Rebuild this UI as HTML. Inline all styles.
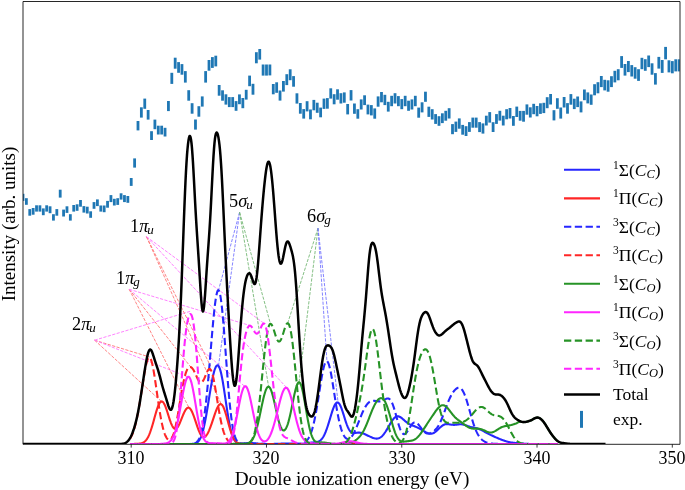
<!DOCTYPE html>
<html><head><meta charset="utf-8"><style>
html,body{margin:0;padding:0;background:#fff;}
#c{position:relative;width:685px;height:490px;overflow:hidden;background:#fff;font-family:"Liberation Serif",serif;color:#000;-webkit-font-smoothing:antialiased;}
#c div{will-change:transform;}
svg{position:absolute;left:0;top:0;}
.tl{position:absolute;top:448.2px;width:60px;text-align:center;font-size:17.9px;line-height:20px;}
.xl{position:absolute;left:0.8px;width:702px;top:468.3px;text-align:center;font-size:19.2px;line-height:22px;}
.yl{position:absolute;left:-101px;top:213.8px;width:220px;text-align:center;font-size:19px;line-height:20px;transform:rotate(-90deg);}
.lt{position:absolute;left:612.5px;font-size:17.5px;line-height:22px;white-space:nowrap;}
.lt sup{font-size:11.5px;vertical-align:0;position:relative;top:-7px;}
.lt sub{font-size:12.5px;vertical-align:0;position:relative;top:1.5px;}
.an{position:absolute;font-size:18.3px;line-height:20px;white-space:nowrap;}
.an sub{font-size:13px;vertical-align:0;position:relative;top:2px;margin-left:-1px;}
</style></head><body><div id="c">
<svg width="685" height="490" viewBox="0 0 685 490">
<defs><clipPath id="ax"><rect x="23.1" y="1.45" width="656.65" height="442.55"/></clipPath></defs>
<g clip-path="url(#ax)">
<rect x="21.60" y="193.80" width="2.8" height="7.10" fill="#1f77b4"/>
<rect x="24.98" y="198.20" width="2.8" height="6.60" fill="#1f77b4"/>
<rect x="28.36" y="209.10" width="2.8" height="6.60" fill="#1f77b4"/>
<rect x="31.75" y="208.00" width="2.8" height="6.70" fill="#1f77b4"/>
<rect x="35.13" y="205.30" width="2.8" height="6.30" fill="#1f77b4"/>
<rect x="38.51" y="205.30" width="2.8" height="6.30" fill="#1f77b4"/>
<rect x="41.89" y="208.40" width="2.8" height="6.80" fill="#1f77b4"/>
<rect x="45.27" y="205.30" width="2.8" height="6.30" fill="#1f77b4"/>
<rect x="48.66" y="206.30" width="2.8" height="6.90" fill="#1f77b4"/>
<rect x="52.04" y="214.20" width="2.8" height="6.40" fill="#1f77b4"/>
<rect x="55.42" y="209.10" width="2.8" height="6.60" fill="#1f77b4"/>
<rect x="58.80" y="189.70" width="2.8" height="7.90" fill="#1f77b4"/>
<rect x="62.18" y="209.60" width="2.8" height="6.90" fill="#1f77b4"/>
<rect x="65.57" y="206.30" width="2.8" height="6.60" fill="#1f77b4"/>
<rect x="68.95" y="214.20" width="2.8" height="6.40" fill="#1f77b4"/>
<rect x="72.33" y="205.00" width="2.8" height="6.60" fill="#1f77b4"/>
<rect x="75.71" y="204.30" width="2.8" height="6.50" fill="#1f77b4"/>
<rect x="79.09" y="200.00" width="2.8" height="6.70" fill="#1f77b4"/>
<rect x="82.48" y="206.10" width="2.8" height="6.50" fill="#1f77b4"/>
<rect x="85.86" y="206.70" width="2.8" height="6.80" fill="#1f77b4"/>
<rect x="89.24" y="211.30" width="2.8" height="6.50" fill="#1f77b4"/>
<rect x="92.62" y="202.10" width="2.8" height="6.70" fill="#1f77b4"/>
<rect x="96.00" y="199.40" width="2.8" height="6.70" fill="#1f77b4"/>
<rect x="99.39" y="205.50" width="2.8" height="6.10" fill="#1f77b4"/>
<rect x="102.77" y="205.50" width="2.8" height="6.70" fill="#1f77b4"/>
<rect x="106.15" y="200.90" width="2.8" height="6.80" fill="#1f77b4"/>
<rect x="109.53" y="195.10" width="2.8" height="7.00" fill="#1f77b4"/>
<rect x="112.91" y="198.80" width="2.8" height="6.70" fill="#1f77b4"/>
<rect x="116.30" y="198.20" width="2.8" height="6.70" fill="#1f77b4"/>
<rect x="119.68" y="193.30" width="2.8" height="6.30" fill="#1f77b4"/>
<rect x="123.06" y="195.10" width="2.8" height="7.00" fill="#1f77b4"/>
<rect x="126.44" y="196.00" width="2.8" height="6.80" fill="#1f77b4"/>
<rect x="129.82" y="178.00" width="2.8" height="7.90" fill="#1f77b4"/>
<rect x="133.21" y="158.40" width="2.8" height="9.20" fill="#1f77b4"/>
<rect x="136.59" y="121.00" width="2.8" height="9.40" fill="#1f77b4"/>
<rect x="139.97" y="107.30" width="2.8" height="10.30" fill="#1f77b4"/>
<rect x="143.35" y="98.60" width="2.8" height="10.20" fill="#1f77b4"/>
<rect x="146.73" y="110.00" width="2.8" height="9.60" fill="#1f77b4"/>
<rect x="150.12" y="131.20" width="2.8" height="8.80" fill="#1f77b4"/>
<rect x="153.50" y="119.60" width="2.8" height="9.60" fill="#1f77b4"/>
<rect x="156.88" y="125.70" width="2.8" height="8.80" fill="#1f77b4"/>
<rect x="160.26" y="125.70" width="2.8" height="8.80" fill="#1f77b4"/>
<rect x="163.64" y="127.80" width="2.8" height="8.70" fill="#1f77b4"/>
<rect x="167.03" y="101.00" width="2.8" height="10.10" fill="#1f77b4"/>
<rect x="170.41" y="72.80" width="2.8" height="11.10" fill="#1f77b4"/>
<rect x="173.79" y="57.70" width="2.8" height="11.00" fill="#1f77b4"/>
<rect x="177.17" y="62.10" width="2.8" height="10.70" fill="#1f77b4"/>
<rect x="180.55" y="64.10" width="2.8" height="10.60" fill="#1f77b4"/>
<rect x="183.94" y="71.10" width="2.8" height="11.50" fill="#1f77b4"/>
<rect x="187.32" y="90.20" width="2.8" height="10.50" fill="#1f77b4"/>
<rect x="190.70" y="103.20" width="2.8" height="10.50" fill="#1f77b4"/>
<rect x="194.08" y="119.50" width="2.8" height="10.10" fill="#1f77b4"/>
<rect x="197.46" y="106.20" width="2.8" height="10.50" fill="#1f77b4"/>
<rect x="200.85" y="96.40" width="2.8" height="10.20" fill="#1f77b4"/>
<rect x="204.23" y="71.10" width="2.8" height="11.50" fill="#1f77b4"/>
<rect x="207.61" y="60.00" width="2.8" height="10.70" fill="#1f77b4"/>
<rect x="210.99" y="57.10" width="2.8" height="10.80" fill="#1f77b4"/>
<rect x="214.37" y="55.70" width="2.8" height="10.70" fill="#1f77b4"/>
<rect x="217.76" y="85.00" width="2.8" height="10.70" fill="#1f77b4"/>
<rect x="221.14" y="90.30" width="2.8" height="10.40" fill="#1f77b4"/>
<rect x="224.52" y="94.30" width="2.8" height="10.30" fill="#1f77b4"/>
<rect x="227.90" y="97.10" width="2.8" height="10.00" fill="#1f77b4"/>
<rect x="231.28" y="97.10" width="2.8" height="10.00" fill="#1f77b4"/>
<rect x="234.67" y="101.10" width="2.8" height="9.70" fill="#1f77b4"/>
<rect x="238.05" y="94.40" width="2.8" height="9.80" fill="#1f77b4"/>
<rect x="241.43" y="98.00" width="2.8" height="10.20" fill="#1f77b4"/>
<rect x="244.81" y="89.80" width="2.8" height="9.80" fill="#1f77b4"/>
<rect x="248.19" y="75.60" width="2.8" height="10.60" fill="#1f77b4"/>
<rect x="251.58" y="83.80" width="2.8" height="10.90" fill="#1f77b4"/>
<rect x="254.96" y="52.20" width="2.8" height="11.10" fill="#1f77b4"/>
<rect x="258.34" y="49.00" width="2.8" height="10.60" fill="#1f77b4"/>
<rect x="261.72" y="64.50" width="2.8" height="11.10" fill="#1f77b4"/>
<rect x="265.10" y="64.50" width="2.8" height="11.10" fill="#1f77b4"/>
<rect x="268.49" y="64.50" width="2.8" height="10.90" fill="#1f77b4"/>
<rect x="271.87" y="84.00" width="2.8" height="10.30" fill="#1f77b4"/>
<rect x="275.25" y="82.30" width="2.8" height="10.50" fill="#1f77b4"/>
<rect x="278.63" y="90.50" width="2.8" height="10.10" fill="#1f77b4"/>
<rect x="282.01" y="81.00" width="2.8" height="10.60" fill="#1f77b4"/>
<rect x="285.40" y="74.20" width="2.8" height="10.90" fill="#1f77b4"/>
<rect x="288.78" y="69.30" width="2.8" height="10.90" fill="#1f77b4"/>
<rect x="292.16" y="76.10" width="2.8" height="10.60" fill="#1f77b4"/>
<rect x="295.54" y="93.30" width="2.8" height="10.30" fill="#1f77b4"/>
<rect x="298.92" y="103.00" width="2.8" height="10.70" fill="#1f77b4"/>
<rect x="302.31" y="109.10" width="2.8" height="9.50" fill="#1f77b4"/>
<rect x="305.69" y="101.20" width="2.8" height="10.20" fill="#1f77b4"/>
<rect x="309.07" y="109.50" width="2.8" height="9.80" fill="#1f77b4"/>
<rect x="312.45" y="99.90" width="2.8" height="10.40" fill="#1f77b4"/>
<rect x="315.83" y="102.70" width="2.8" height="10.10" fill="#1f77b4"/>
<rect x="319.22" y="107.60" width="2.8" height="9.70" fill="#1f77b4"/>
<rect x="322.60" y="98.60" width="2.8" height="10.30" fill="#1f77b4"/>
<rect x="325.98" y="98.10" width="2.8" height="10.60" fill="#1f77b4"/>
<rect x="329.36" y="88.30" width="2.8" height="10.30" fill="#1f77b4"/>
<rect x="332.74" y="94.20" width="2.8" height="10.10" fill="#1f77b4"/>
<rect x="336.13" y="89.30" width="2.8" height="10.40" fill="#1f77b4"/>
<rect x="339.51" y="93.20" width="2.8" height="10.30" fill="#1f77b4"/>
<rect x="342.89" y="92.40" width="2.8" height="10.30" fill="#1f77b4"/>
<rect x="346.27" y="104.00" width="2.8" height="10.40" fill="#1f77b4"/>
<rect x="349.65" y="90.10" width="2.8" height="10.40" fill="#1f77b4"/>
<rect x="353.04" y="103.50" width="2.8" height="10.30" fill="#1f77b4"/>
<rect x="356.42" y="109.20" width="2.8" height="9.50" fill="#1f77b4"/>
<rect x="359.80" y="99.40" width="2.8" height="10.10" fill="#1f77b4"/>
<rect x="363.18" y="95.30" width="2.8" height="9.80" fill="#1f77b4"/>
<rect x="366.56" y="104.60" width="2.8" height="9.80" fill="#1f77b4"/>
<rect x="369.95" y="105.10" width="2.8" height="10.30" fill="#1f77b4"/>
<rect x="373.33" y="108.40" width="2.8" height="10.30" fill="#1f77b4"/>
<rect x="376.71" y="96.40" width="2.8" height="10.30" fill="#1f77b4"/>
<rect x="380.09" y="92.00" width="2.8" height="10.30" fill="#1f77b4"/>
<rect x="383.47" y="94.80" width="2.8" height="10.30" fill="#1f77b4"/>
<rect x="386.86" y="101.80" width="2.8" height="9.80" fill="#1f77b4"/>
<rect x="390.24" y="95.80" width="2.8" height="10.40" fill="#1f77b4"/>
<rect x="393.62" y="93.20" width="2.8" height="10.30" fill="#1f77b4"/>
<rect x="397.00" y="96.10" width="2.8" height="10.10" fill="#1f77b4"/>
<rect x="400.38" y="99.10" width="2.8" height="10.10" fill="#1f77b4"/>
<rect x="403.77" y="95.80" width="2.8" height="10.40" fill="#1f77b4"/>
<rect x="407.15" y="100.70" width="2.8" height="10.10" fill="#1f77b4"/>
<rect x="410.53" y="99.40" width="2.8" height="10.10" fill="#1f77b4"/>
<rect x="413.91" y="95.80" width="2.8" height="10.40" fill="#1f77b4"/>
<rect x="417.29" y="107.60" width="2.8" height="10.10" fill="#1f77b4"/>
<rect x="420.68" y="102.30" width="2.8" height="10.10" fill="#1f77b4"/>
<rect x="424.06" y="91.70" width="2.8" height="10.10" fill="#1f77b4"/>
<rect x="427.44" y="106.70" width="2.8" height="10.20" fill="#1f77b4"/>
<rect x="430.82" y="109.20" width="2.8" height="10.30" fill="#1f77b4"/>
<rect x="434.20" y="114.10" width="2.8" height="9.80" fill="#1f77b4"/>
<rect x="437.59" y="116.20" width="2.8" height="9.60" fill="#1f77b4"/>
<rect x="440.97" y="113.30" width="2.8" height="9.80" fill="#1f77b4"/>
<rect x="444.35" y="110.80" width="2.8" height="9.90" fill="#1f77b4"/>
<rect x="447.73" y="108.20" width="2.8" height="10.30" fill="#1f77b4"/>
<rect x="451.11" y="124.10" width="2.8" height="10.10" fill="#1f77b4"/>
<rect x="454.50" y="121.60" width="2.8" height="10.30" fill="#1f77b4"/>
<rect x="457.88" y="118.40" width="2.8" height="10.30" fill="#1f77b4"/>
<rect x="461.26" y="124.90" width="2.8" height="9.80" fill="#1f77b4"/>
<rect x="464.64" y="126.20" width="2.8" height="9.80" fill="#1f77b4"/>
<rect x="468.02" y="122.10" width="2.8" height="9.80" fill="#1f77b4"/>
<rect x="471.41" y="117.60" width="2.8" height="10.10" fill="#1f77b4"/>
<rect x="474.79" y="117.60" width="2.8" height="10.10" fill="#1f77b4"/>
<rect x="478.17" y="122.10" width="2.8" height="10.00" fill="#1f77b4"/>
<rect x="481.55" y="123.40" width="2.8" height="10.20" fill="#1f77b4"/>
<rect x="484.93" y="115.70" width="2.8" height="9.80" fill="#1f77b4"/>
<rect x="488.32" y="112.10" width="2.8" height="10.50" fill="#1f77b4"/>
<rect x="491.70" y="122.20" width="2.8" height="9.80" fill="#1f77b4"/>
<rect x="495.08" y="114.10" width="2.8" height="9.80" fill="#1f77b4"/>
<rect x="498.46" y="110.80" width="2.8" height="9.80" fill="#1f77b4"/>
<rect x="501.84" y="115.70" width="2.8" height="9.80" fill="#1f77b4"/>
<rect x="505.23" y="109.20" width="2.8" height="10.10" fill="#1f77b4"/>
<rect x="508.61" y="108.00" width="2.8" height="10.50" fill="#1f77b4"/>
<rect x="511.99" y="116.00" width="2.8" height="9.80" fill="#1f77b4"/>
<rect x="515.37" y="106.60" width="2.8" height="10.40" fill="#1f77b4"/>
<rect x="518.75" y="110.90" width="2.8" height="9.80" fill="#1f77b4"/>
<rect x="522.14" y="110.90" width="2.8" height="10.80" fill="#1f77b4"/>
<rect x="525.52" y="104.40" width="2.8" height="10.30" fill="#1f77b4"/>
<rect x="528.90" y="107.30" width="2.8" height="10.20" fill="#1f77b4"/>
<rect x="532.28" y="103.80" width="2.8" height="10.40" fill="#1f77b4"/>
<rect x="535.66" y="106.00" width="2.8" height="10.30" fill="#1f77b4"/>
<rect x="539.05" y="103.30" width="2.8" height="10.60" fill="#1f77b4"/>
<rect x="542.43" y="102.80" width="2.8" height="10.30" fill="#1f77b4"/>
<rect x="545.81" y="97.20" width="2.8" height="11.00" fill="#1f77b4"/>
<rect x="549.19" y="94.00" width="2.8" height="10.50" fill="#1f77b4"/>
<rect x="552.57" y="110.20" width="2.8" height="10.20" fill="#1f77b4"/>
<rect x="555.96" y="98.20" width="2.8" height="10.60" fill="#1f77b4"/>
<rect x="559.34" y="107.50" width="2.8" height="11.10" fill="#1f77b4"/>
<rect x="562.72" y="97.00" width="2.8" height="10.50" fill="#1f77b4"/>
<rect x="566.10" y="103.10" width="2.8" height="10.60" fill="#1f77b4"/>
<rect x="569.48" y="94.10" width="2.8" height="10.60" fill="#1f77b4"/>
<rect x="572.87" y="98.70" width="2.8" height="10.40" fill="#1f77b4"/>
<rect x="576.25" y="96.50" width="2.8" height="10.60" fill="#1f77b4"/>
<rect x="579.63" y="101.40" width="2.8" height="11.00" fill="#1f77b4"/>
<rect x="583.01" y="89.50" width="2.8" height="10.70" fill="#1f77b4"/>
<rect x="586.39" y="92.40" width="2.8" height="11.00" fill="#1f77b4"/>
<rect x="589.78" y="94.50" width="2.8" height="10.30" fill="#1f77b4"/>
<rect x="593.16" y="84.20" width="2.8" height="11.10" fill="#1f77b4"/>
<rect x="596.54" y="82.20" width="2.8" height="11.10" fill="#1f77b4"/>
<rect x="599.92" y="76.00" width="2.8" height="11.10" fill="#1f77b4"/>
<rect x="603.30" y="79.80" width="2.8" height="10.60" fill="#1f77b4"/>
<rect x="606.69" y="80.30" width="2.8" height="11.40" fill="#1f77b4"/>
<rect x="610.07" y="76.20" width="2.8" height="10.90" fill="#1f77b4"/>
<rect x="613.45" y="70.80" width="2.8" height="11.60" fill="#1f77b4"/>
<rect x="616.83" y="69.20" width="2.8" height="11.10" fill="#1f77b4"/>
<rect x="620.21" y="56.10" width="2.8" height="11.80" fill="#1f77b4"/>
<rect x="623.60" y="64.00" width="2.8" height="11.60" fill="#1f77b4"/>
<rect x="626.98" y="61.00" width="2.8" height="11.10" fill="#1f77b4"/>
<rect x="630.36" y="65.10" width="2.8" height="11.40" fill="#1f77b4"/>
<rect x="633.74" y="67.20" width="2.8" height="11.50" fill="#1f77b4"/>
<rect x="637.12" y="69.20" width="2.8" height="11.70" fill="#1f77b4"/>
<rect x="640.51" y="57.80" width="2.8" height="11.40" fill="#1f77b4"/>
<rect x="643.89" y="59.20" width="2.8" height="11.60" fill="#1f77b4"/>
<rect x="647.27" y="55.50" width="2.8" height="11.60" fill="#1f77b4"/>
<rect x="650.65" y="63.30" width="2.8" height="11.40" fill="#1f77b4"/>
<rect x="654.03" y="73.10" width="2.8" height="11.50" fill="#1f77b4"/>
<rect x="657.42" y="56.90" width="2.8" height="11.70" fill="#1f77b4"/>
<rect x="660.80" y="60.00" width="2.8" height="12.90" fill="#1f77b4"/>
<rect x="664.18" y="46.90" width="2.8" height="12.40" fill="#1f77b4"/>
<rect x="667.56" y="60.30" width="2.8" height="12.10" fill="#1f77b4"/>
<rect x="670.94" y="61.10" width="2.8" height="12.20" fill="#1f77b4"/>
<rect x="674.33" y="59.30" width="2.8" height="12.10" fill="#1f77b4"/>
<rect x="677.71" y="59.30" width="2.8" height="12.10" fill="#1f77b4"/>
<line x1="94.6" y1="340.2" x2="149.5" y2="357" stroke="#ff7676" stroke-width="0.9" stroke-dasharray="3.2,1.4"/>
<line x1="94.6" y1="340.2" x2="162.5" y2="402.5" stroke="#ff7676" stroke-width="0.9" stroke-dasharray="3.2,1.4"/>
<line x1="94.6" y1="340.2" x2="190.3" y2="311.3" stroke="#ff76ff" stroke-width="0.9" stroke-dasharray="3.2,1.4"/>
<line x1="94.6" y1="340.2" x2="188" y2="377" stroke="#ff76ff" stroke-width="0.9" stroke-dasharray="3.2,1.4"/>
<line x1="129.2" y1="289.3" x2="191.5" y2="368" stroke="#ff7676" stroke-width="0.9" stroke-dasharray="3.2,1.4"/>
<line x1="129.2" y1="289.3" x2="188.6" y2="407" stroke="#ff7676" stroke-width="0.9" stroke-dasharray="3.2,1.4"/>
<line x1="129.2" y1="289.3" x2="250" y2="325.5" stroke="#ff76ff" stroke-width="0.9" stroke-dasharray="3.2,1.4"/>
<line x1="129.2" y1="289.3" x2="245.5" y2="387" stroke="#ff76ff" stroke-width="0.9" stroke-dasharray="3.2,1.4"/>
<line x1="146.5" y1="236.7" x2="210.5" y2="366" stroke="#ff7676" stroke-width="0.9" stroke-dasharray="3.2,1.4"/>
<line x1="146.5" y1="236.7" x2="221.4" y2="404.5" stroke="#ff7676" stroke-width="0.9" stroke-dasharray="3.2,1.4"/>
<line x1="146.5" y1="236.7" x2="264.6" y2="323.8" stroke="#ff76ff" stroke-width="0.9" stroke-dasharray="3.2,1.4"/>
<line x1="146.5" y1="236.7" x2="286.5" y2="387.5" stroke="#ff76ff" stroke-width="0.9" stroke-dasharray="3.2,1.4"/>
<line x1="239.6" y1="212.3" x2="218.3" y2="291" stroke="#7676ff" stroke-width="0.9" stroke-dasharray="3.2,1.4"/>
<line x1="239.6" y1="212.3" x2="218.2" y2="368" stroke="#7676ff" stroke-width="0.9" stroke-dasharray="3.2,1.4"/>
<line x1="239.6" y1="212.3" x2="270.5" y2="324" stroke="#76b876" stroke-width="0.9" stroke-dasharray="3.2,1.4"/>
<line x1="239.6" y1="212.3" x2="268.5" y2="386" stroke="#76b876" stroke-width="0.9" stroke-dasharray="3.2,1.4"/>
<line x1="318.0" y1="228.2" x2="287.6" y2="323.5" stroke="#76b876" stroke-width="0.9" stroke-dasharray="3.2,1.4"/>
<line x1="318.0" y1="228.2" x2="298.7" y2="385" stroke="#76b876" stroke-width="0.9" stroke-dasharray="3.2,1.4"/>
<line x1="318.0" y1="228.2" x2="327" y2="362" stroke="#7676ff" stroke-width="0.9" stroke-dasharray="3.2,1.4"/>
<line x1="318.0" y1="228.2" x2="338.2" y2="403.5" stroke="#7676ff" stroke-width="0.9" stroke-dasharray="3.2,1.4"/>
<path d="M130.00,444.00 L130.50,444.00 L131.00,444.00 L131.50,444.00 L132.00,444.00 L132.50,444.00 L133.00,444.00 L133.50,444.00 L134.00,444.00 L134.50,444.00 L135.00,444.00 L135.50,444.00 L136.00,444.00 L136.50,444.00 L137.00,444.00 L137.50,444.00 L138.00,444.00 L138.50,444.00 L139.00,444.00 L139.50,444.00 L140.00,444.00 L140.50,444.00 L141.00,444.00 L141.50,444.00 L142.00,444.00 L142.50,444.00 L143.00,444.00 L143.50,444.00 L144.00,444.00 L144.50,444.00 L145.00,444.00 L145.50,444.00 L146.00,444.00 L146.50,444.00 L147.00,444.00 L147.50,444.00 L148.00,444.00 L148.50,444.00 L149.00,444.00 L149.50,444.00 L150.00,444.00 L150.50,444.00 L151.00,444.00 L151.50,444.00 L152.00,444.00 L152.50,444.00 L153.00,444.00 L153.50,444.00 L154.00,444.00 L154.50,444.00 L155.00,444.00 L155.50,444.00 L156.00,444.00 L156.50,444.00 L157.00,444.00 L157.50,444.00 L158.00,444.00 L158.50,444.00 L159.00,444.00 L159.50,444.00 L160.00,444.00 L160.50,444.00 L161.00,444.00 L161.50,444.00 L162.00,444.00 L162.50,444.00 L163.00,444.00 L163.50,444.00 L164.00,444.00 L164.50,444.00 L165.00,444.00 L165.50,444.00 L166.00,444.00 L166.50,444.00 L167.00,444.00 L167.50,444.00 L168.00,444.00 L168.50,444.00 L169.00,444.00 L169.50,444.00 L170.00,444.00 L170.50,444.00 L171.00,444.00 L171.50,444.00 L172.00,444.00 L172.50,444.00 L173.00,444.00 L173.50,444.00 L174.00,444.00 L174.50,444.00 L175.00,444.00 L175.50,444.00 L176.00,444.00 L176.50,444.00 L177.00,444.00 L177.50,444.00 L178.00,444.00 L178.50,444.00 L179.00,444.00 L179.50,444.00 L180.00,444.00 L180.50,444.00 L181.00,444.00 L181.50,444.00 L182.00,444.00 L182.50,444.00 L183.00,444.00 L183.50,444.00 L184.00,444.00 L184.50,444.00 L185.00,444.00 L185.50,444.00 L186.00,444.00 L186.50,444.00 L187.00,444.00 L187.50,444.00 L188.00,443.99 L188.50,443.99 L189.00,443.99 L189.50,443.98 L190.00,443.98 L190.50,443.97 L191.00,443.95 L191.50,443.93 L192.00,443.91 L192.50,443.87 L193.00,443.83 L193.50,443.77 L194.00,443.69 L194.50,443.59 L195.00,443.46 L195.50,443.30 L196.00,443.10 L196.50,442.85 L197.00,442.55 L197.50,442.18 L198.00,441.73 L198.50,441.19 L199.00,440.56 L199.50,439.82 L200.00,438.95 L200.50,437.96 L201.00,436.82 L201.50,435.53 L202.00,434.08 L202.50,432.46 L203.00,430.68 L203.50,428.73 L204.00,426.61 L204.50,424.32 L205.00,421.88 L205.50,419.30 L206.00,416.58 L206.50,413.74 L207.00,410.80 L207.50,407.79 L208.00,404.72 L208.50,401.61 L209.00,398.49 L209.50,395.39 L210.00,392.33 L210.50,389.33 L211.00,386.42 L211.50,383.62 L212.00,380.95 L212.50,378.43 L213.00,376.08 L213.50,373.93 L214.00,371.98 L214.50,370.26 L215.00,368.77 L215.50,367.53 L216.00,366.56 L216.50,365.86 L217.00,365.45 L217.50,365.32 L218.00,365.50 L218.50,365.97 L219.00,366.75 L219.50,367.83 L220.00,369.21 L220.50,370.88 L221.00,372.82 L221.50,375.03 L222.00,377.49 L222.50,380.17 L223.00,383.04 L223.50,386.09 L224.00,389.27 L224.50,392.56 L225.00,395.92 L225.50,399.32 L226.00,402.72 L226.50,406.09 L227.00,409.40 L227.50,412.62 L228.00,415.72 L228.50,418.67 L229.00,421.47 L229.50,424.10 L230.00,426.53 L230.50,428.78 L231.00,430.83 L231.50,432.68 L232.00,434.34 L232.50,435.82 L233.00,437.12 L233.50,438.25 L234.00,439.23 L234.50,440.07 L235.00,440.79 L235.50,441.39 L236.00,441.88 L236.50,442.29 L237.00,442.62 L237.50,442.89 L238.00,443.09 L238.50,443.25 L239.00,443.37 L239.50,443.46 L240.00,443.51 L240.50,443.55 L241.00,443.56 L241.50,443.56 L242.00,443.54 L242.50,443.52 L243.00,443.49 L243.50,443.45 L244.00,443.41 L244.50,443.36 L245.00,443.32 L245.50,443.27 L246.00,443.23 L246.50,443.19 L247.00,443.15 L247.50,443.12 L248.00,443.09 L248.50,443.07 L249.00,443.05 L249.50,443.04 L250.00,443.04 L250.50,443.05 L251.00,443.06 L251.50,443.08 L252.00,443.10 L252.50,443.13 L253.00,443.17 L253.50,443.21 L254.00,443.25 L254.50,443.30 L255.00,443.34 L255.50,443.39 L256.00,443.44 L256.50,443.49 L257.00,443.54 L257.50,443.59 L258.00,443.63 L258.50,443.68 L259.00,443.71 L259.50,443.75 L260.00,443.79 L260.50,443.82 L261.00,443.84 L261.50,443.87 L262.00,443.89 L262.50,443.91 L263.00,443.92 L263.50,443.94 L264.00,443.95 L264.50,443.96 L265.00,443.97 L265.50,443.97 L266.00,443.98 L266.50,443.98 L267.00,443.98 L267.50,443.98 L268.00,443.98 L268.50,443.98 L269.00,443.98 L269.50,443.98 L270.00,443.98 L270.50,443.97 L271.00,443.97 L271.50,443.96 L272.00,443.95 L272.50,443.95 L273.00,443.94 L273.50,443.93 L274.00,443.92 L274.50,443.90 L275.00,443.89 L275.50,443.87 L276.00,443.86 L276.50,443.84 L277.00,443.83 L277.50,443.81 L278.00,443.79 L278.50,443.77 L279.00,443.75 L279.50,443.73 L280.00,443.71 L280.50,443.69 L281.00,443.67 L281.50,443.65 L282.00,443.64 L282.50,443.62 L283.00,443.61 L283.50,443.59 L284.00,443.58 L284.50,443.57 L285.00,443.56 L285.50,443.55 L286.00,443.54 L286.50,443.54 L287.00,443.54 L287.50,443.54 L288.00,443.54 L288.50,443.54 L289.00,443.55 L289.50,443.56 L290.00,443.57 L290.50,443.58 L291.00,443.59 L291.50,443.61 L292.00,443.62 L292.50,443.64 L293.00,443.66 L293.50,443.68 L294.00,443.70 L294.50,443.72 L295.00,443.74 L295.50,443.76 L296.00,443.77 L296.50,443.79 L297.00,443.81 L297.50,443.82 L298.00,443.83 L298.50,443.84 L299.00,443.84 L299.50,443.84 L300.00,443.84 L300.50,443.83 L301.00,443.82 L301.50,443.80 L302.00,443.78 L302.50,443.75 L303.00,443.72 L303.50,443.68 L304.00,443.63 L304.50,443.58 L305.00,443.53 L305.50,443.47 L306.00,443.40 L306.50,443.33 L307.00,443.26 L307.50,443.18 L308.00,443.10 L308.50,443.02 L309.00,442.95 L309.50,442.87 L310.00,442.80 L310.50,442.73 L311.00,442.66 L311.50,442.60 L312.00,442.54 L312.50,442.49 L313.00,442.44 L313.50,442.39 L314.00,442.34 L314.50,442.30 L315.00,442.25 L315.50,442.19 L316.00,442.12 L316.50,442.04 L317.00,441.94 L317.50,441.81 L318.00,441.65 L318.50,441.46 L319.00,441.23 L319.50,440.96 L320.00,440.63 L320.50,440.24 L321.00,439.79 L321.50,439.27 L322.00,438.68 L322.50,438.01 L323.00,437.26 L323.50,436.42 L324.00,435.50 L324.50,434.50 L325.00,433.41 L325.50,432.24 L326.00,430.98 L326.50,429.64 L327.00,428.23 L327.50,426.76 L328.00,425.22 L328.50,423.63 L329.00,422.01 L329.50,420.35 L330.00,418.68 L330.50,417.01 L331.00,415.36 L331.50,413.73 L332.00,412.15 L332.50,410.64 L333.00,409.20 L333.50,407.87 L334.00,406.65 L334.50,405.56 L335.00,404.61 L335.50,403.82 L336.00,403.21 L336.50,402.77 L337.00,402.51 L337.50,402.45 L338.00,402.58 L338.50,402.90 L339.00,403.40 L339.50,404.09 L340.00,404.95 L340.50,405.96 L341.00,407.12 L341.50,408.40 L342.00,409.79 L342.50,411.27 L343.00,412.82 L343.50,414.42 L344.00,416.03 L344.50,417.65 L345.00,419.26 L345.50,420.82 L346.00,422.33 L346.50,423.77 L347.00,425.12 L347.50,426.38 L348.00,427.53 L348.50,428.57 L349.00,429.50 L349.50,430.30 L350.00,431.00 L350.50,431.58 L351.00,432.05 L351.50,432.42 L352.00,432.70 L352.50,432.90 L353.00,433.02 L353.50,433.09 L354.00,433.11 L354.50,433.08 L355.00,433.03 L355.50,432.97 L356.00,432.89 L356.50,432.81 L357.00,432.74 L357.50,432.67 L358.00,432.63 L358.50,432.61 L359.00,432.60 L359.50,432.63 L360.00,432.68 L360.50,432.75 L361.00,432.85 L361.50,432.97 L362.00,433.11 L362.50,433.27 L363.00,433.44 L363.50,433.63 L364.00,433.84 L364.50,434.05 L365.00,434.27 L365.50,434.50 L366.00,434.73 L366.50,434.97 L367.00,435.21 L367.50,435.45 L368.00,435.69 L368.50,435.93 L369.00,436.17 L369.50,436.40 L370.00,436.63 L370.50,436.86 L371.00,437.09 L371.50,437.30 L372.00,437.51 L372.50,437.71 L373.00,437.89 L373.50,438.06 L374.00,438.21 L374.50,438.34 L375.00,438.45 L375.50,438.53 L376.00,438.58 L376.50,438.60 L377.00,438.59 L377.50,438.54 L378.00,438.45 L378.50,438.33 L379.00,438.16 L379.50,437.94 L380.00,437.68 L380.50,437.37 L381.00,437.01 L381.50,436.61 L382.00,436.16 L382.50,435.66 L383.00,435.11 L383.50,434.52 L384.00,433.89 L384.50,433.22 L385.00,432.50 L385.50,431.76 L386.00,430.98 L386.50,430.17 L387.00,429.34 L387.50,428.49 L388.00,427.62 L388.50,426.75 L389.00,425.87 L389.50,425.00 L390.00,424.14 L390.50,423.29 L391.00,422.47 L391.50,421.67 L392.00,420.91 L392.50,420.20 L393.00,419.53 L393.50,418.91 L394.00,418.35 L394.50,417.85 L395.00,417.42 L395.50,417.06 L396.00,416.77 L396.50,416.55 L397.00,416.40 L397.50,416.33 L398.00,416.32 L398.50,416.39 L399.00,416.51 L399.50,416.70 L400.00,416.94 L400.50,417.23 L401.00,417.56 L401.50,417.93 L402.00,418.32 L402.50,418.74 L403.00,419.18 L403.50,419.62 L404.00,420.07 L404.50,420.51 L405.00,420.95 L405.50,421.38 L406.00,421.79 L406.50,422.19 L407.00,422.56 L407.50,422.92 L408.00,423.25 L408.50,423.56 L409.00,423.86 L409.50,424.13 L410.00,424.38 L410.50,424.62 L411.00,424.85 L411.50,425.06 L412.00,425.27 L412.50,425.47 L413.00,425.67 L413.50,425.86 L414.00,426.06 L414.50,426.26 L415.00,426.46 L415.50,426.67 L416.00,426.88 L416.50,427.11 L417.00,427.34 L417.50,427.57 L418.00,427.82 L418.50,428.07 L419.00,428.33 L419.50,428.60 L420.00,428.88 L420.50,429.16 L421.00,429.44 L421.50,429.74 L422.00,430.03 L422.50,430.33 L423.00,430.62 L423.50,430.92 L424.00,431.22 L424.50,431.50 L425.00,431.79 L425.50,432.06 L426.00,432.32 L426.50,432.57 L427.00,432.80 L427.50,433.01 L428.00,433.20 L428.50,433.36 L429.00,433.49 L429.50,433.60 L430.00,433.66 L430.50,433.69 L431.00,433.69 L431.50,433.64 L432.00,433.55 L432.50,433.42 L433.00,433.25 L433.50,433.03 L434.00,432.78 L434.50,432.48 L435.00,432.15 L435.50,431.78 L436.00,431.38 L436.50,430.95 L437.00,430.50 L437.50,430.04 L438.00,429.55 L438.50,429.07 L439.00,428.58 L439.50,428.09 L440.00,427.61 L440.50,427.15 L441.00,426.71 L441.50,426.29 L442.00,425.91 L442.50,425.55 L443.00,425.23 L443.50,424.95 L444.00,424.71 L444.50,424.51 L445.00,424.35 L445.50,424.23 L446.00,424.15 L446.50,424.10 L447.00,424.08 L447.50,424.10 L448.00,424.13 L448.50,424.19 L449.00,424.26 L449.50,424.34 L450.00,424.42 L450.50,424.51 L451.00,424.59 L451.50,424.67 L452.00,424.73 L452.50,424.78 L453.00,424.82 L453.50,424.84 L454.00,424.84 L454.50,424.83 L455.00,424.80 L455.50,424.76 L456.00,424.71 L456.50,424.65 L457.00,424.59 L457.50,424.52 L458.00,424.46 L458.50,424.40 L459.00,424.35 L459.50,424.31 L460.00,424.28 L460.50,424.28 L461.00,424.29 L461.50,424.32 L462.00,424.37 L462.50,424.45 L463.00,424.54 L463.50,424.65 L464.00,424.78 L464.50,424.92 L465.00,425.08 L465.50,425.25 L466.00,425.42 L466.50,425.60 L467.00,425.78 L467.50,425.96 L468.00,426.13 L468.50,426.30 L469.00,426.47 L469.50,426.62 L470.00,426.77 L470.50,426.90 L471.00,427.03 L471.50,427.15 L472.00,427.26 L472.50,427.37 L473.00,427.47 L473.50,427.56 L474.00,427.66 L474.50,427.76 L475.00,427.87 L475.50,427.97 L476.00,428.09 L476.50,428.22 L477.00,428.35 L477.50,428.50 L478.00,428.66 L478.50,428.84 L479.00,429.02 L479.50,429.22 L480.00,429.43 L480.50,429.65 L481.00,429.89 L481.50,430.13 L482.00,430.38 L482.50,430.64 L483.00,430.90 L483.50,431.17 L484.00,431.44 L484.50,431.71 L485.00,431.99 L485.50,432.26 L486.00,432.53 L486.50,432.80 L487.00,433.07 L487.50,433.33 L488.00,433.59 L488.50,433.85 L489.00,434.11 L489.50,434.36 L490.00,434.61 L490.50,434.85 L491.00,435.09 L491.50,435.33 L492.00,435.57 L492.50,435.81 L493.00,436.04 L493.50,436.27 L494.00,436.50 L494.50,436.72 L495.00,436.95 L495.50,437.17 L496.00,437.40 L496.50,437.62 L497.00,437.83 L497.50,438.05 L498.00,438.26 L498.50,438.48 L499.00,438.69 L499.50,438.89 L500.00,439.10 L500.50,439.30 L501.00,439.50 L501.50,439.69 L502.00,439.89 L502.50,440.07 L503.00,440.26 L503.50,440.44 L504.00,440.61 L504.50,440.78 L505.00,440.95 L505.50,441.11 L506.00,441.26 L506.50,441.41 L507.00,441.55 L507.50,441.68 L508.00,441.81 L508.50,441.93 L509.00,442.04 L509.50,442.15 L510.00,442.24 L510.50,442.34 L511.00,442.42 L511.50,442.50 L512.00,442.57 L512.50,442.64 L513.00,442.70 L513.50,442.76 L514.00,442.82 L514.50,442.87 L515.00,442.92 L515.50,442.97 L516.00,443.01 L516.50,443.06 L517.00,443.10 L517.50,443.15 L518.00,443.19 L518.50,443.23 L519.00,443.28 L519.50,443.32 L520.00,443.36 L520.50,443.41 L521.00,443.45 L521.50,443.49 L522.00,443.53 L522.50,443.57 L523.00,443.61 L523.50,443.65 L524.00,443.69 L524.50,443.72 L525.00,443.75 L525.50,443.78 L526.00,443.81 L526.50,443.84 L527.00,443.86 L527.50,443.88 L528.00,443.90 L528.50,443.91 L529.00,443.93 L529.50,443.94 L530.00,443.95 L530.50,443.96 L531.00,443.97 L531.50,443.97 L532.00,443.98 L532.50,443.98 L533.00,443.99 L533.50,443.99 L534.00,443.99 L534.50,443.99 L535.00,444.00 L535.50,444.00 L536.00,444.00 L536.50,444.00 L537.00,444.00 L537.50,444.00 L538.00,444.00 L538.50,444.00 L539.00,444.00 L539.50,444.00 L540.00,444.00 L540.50,444.00 L541.00,444.00 L541.50,444.00 L542.00,444.00 L542.50,444.00 L543.00,444.00 L543.50,444.00 L544.00,444.00 L544.50,444.00 L545.00,444.00 L545.50,444.00 L546.00,444.00 L546.50,444.00 L547.00,444.00 L547.50,444.00 L548.00,444.00 L548.50,444.00 L549.00,444.00 L549.50,444.00 L550.00,444.00 L550.50,444.00 L551.00,444.00 L551.50,444.00 L552.00,444.00 L552.50,444.00 L553.00,444.00 L553.50,444.00 L554.00,444.00 L554.50,444.00 L555.00,444.00 L555.50,444.00 L556.00,444.00 L556.50,444.00 L557.00,444.00 L557.50,444.00 L558.00,444.00" fill="none" stroke="#2626ff" stroke-width="2.1" stroke-linejoin="round"/>
<path d="M130.00,443.99 L130.50,443.98 L131.00,443.98 L131.50,443.97 L132.00,443.97 L132.50,443.96 L133.00,443.95 L133.50,443.94 L134.00,443.93 L134.50,443.92 L135.00,443.90 L135.50,443.88 L136.00,443.86 L136.50,443.84 L137.00,443.81 L137.50,443.78 L138.00,443.74 L138.50,443.70 L139.00,443.65 L139.50,443.58 L140.00,443.51 L140.50,443.42 L141.00,443.31 L141.50,443.18 L142.00,443.02 L142.50,442.83 L143.00,442.61 L143.50,442.35 L144.00,442.04 L144.50,441.67 L145.00,441.25 L145.50,440.77 L146.00,440.21 L146.50,439.57 L147.00,438.86 L147.50,438.05 L148.00,437.16 L148.50,436.16 L149.00,435.08 L149.50,433.89 L150.00,432.61 L150.50,431.24 L151.00,429.78 L151.50,428.24 L152.00,426.62 L152.50,424.94 L153.00,423.20 L153.50,421.43 L154.00,419.63 L154.50,417.82 L155.00,416.02 L155.50,414.24 L156.00,412.51 L156.50,410.85 L157.00,409.27 L157.50,407.79 L158.00,406.43 L158.50,405.21 L159.00,404.13 L159.50,403.22 L160.00,402.49 L160.50,401.94 L161.00,401.58 L161.50,401.42 L162.00,401.45 L162.50,401.68 L163.00,402.10 L163.50,402.70 L164.00,403.47 L164.50,404.41 L165.00,405.49 L165.50,406.71 L166.00,408.04 L166.50,409.47 L167.00,410.96 L167.50,412.51 L168.00,414.10 L168.50,415.69 L169.00,417.27 L169.50,418.81 L170.00,420.30 L170.50,421.72 L171.00,423.05 L171.50,424.27 L172.00,425.37 L172.50,426.34 L173.00,427.16 L173.50,427.82 L174.00,428.33 L174.50,428.68 L175.00,428.85 L175.50,428.87 L176.00,428.72 L176.50,428.42 L177.00,427.96 L177.50,427.36 L178.00,426.63 L178.50,425.78 L179.00,424.82 L179.50,423.77 L180.00,422.64 L180.50,421.46 L181.00,420.22 L181.50,418.97 L182.00,417.70 L182.50,416.44 L183.00,415.21 L183.50,414.03 L184.00,412.90 L184.50,411.85 L185.00,410.89 L185.50,410.03 L186.00,409.29 L186.50,408.68 L187.00,408.21 L187.50,407.88 L188.00,407.70 L188.50,407.67 L189.00,407.81 L189.50,408.09 L190.00,408.53 L190.50,409.12 L191.00,409.86 L191.50,410.73 L192.00,411.73 L192.50,412.84 L193.00,414.06 L193.50,415.36 L194.00,416.74 L194.50,418.18 L195.00,419.66 L195.50,421.16 L196.00,422.67 L196.50,424.18 L197.00,425.66 L197.50,427.10 L198.00,428.49 L198.50,429.80 L199.00,431.04 L199.50,432.18 L200.00,433.22 L200.50,434.14 L201.00,434.95 L201.50,435.63 L202.00,436.19 L202.50,436.61 L203.00,436.89 L203.50,437.04 L204.00,437.06 L204.50,436.94 L205.00,436.70 L205.50,436.33 L206.00,435.84 L206.50,435.23 L207.00,434.51 L207.50,433.68 L208.00,432.75 L208.50,431.73 L209.00,430.62 L209.50,429.43 L210.00,428.17 L210.50,426.84 L211.00,425.46 L211.50,424.04 L212.00,422.57 L212.50,421.08 L213.00,419.58 L213.50,418.07 L214.00,416.56 L214.50,415.08 L215.00,413.63 L215.50,412.23 L216.00,410.89 L216.50,409.63 L217.00,408.46 L217.50,407.40 L218.00,406.46 L218.50,405.66 L219.00,405.02 L219.50,404.54 L220.00,404.23 L220.50,404.10 L221.00,404.16 L221.50,404.42 L222.00,404.86 L222.50,405.50 L223.00,406.33 L223.50,407.33 L224.00,408.50 L224.50,409.82 L225.00,411.28 L225.50,412.86 L226.00,414.54 L226.50,416.30 L227.00,418.10 L227.50,419.95 L228.00,421.80 L228.50,423.64 L229.00,425.45 L229.50,427.22 L230.00,428.91 L230.50,430.53 L231.00,432.06 L231.50,433.49 L232.00,434.82 L232.50,436.04 L233.00,437.14 L233.50,438.14 L234.00,439.03 L234.50,439.82 L235.00,440.51 L235.50,441.10 L236.00,441.62 L236.50,442.06 L237.00,442.43 L237.50,442.74 L238.00,443.00 L238.50,443.21 L239.00,443.38 L239.50,443.52 L240.00,443.63 L240.50,443.72 L241.00,443.79 L241.50,443.84 L242.00,443.88 L242.50,443.91 L243.00,443.94 L243.50,443.95 L244.00,443.97 L244.50,443.98 L245.00,443.98 L245.50,443.99 L246.00,443.99 L246.50,443.99 L247.00,444.00 L247.50,444.00 L248.00,444.00 L248.50,444.00 L249.00,444.00 L249.50,444.00 L250.00,444.00 L250.50,444.00 L251.00,444.00 L251.50,444.00 L252.00,444.00 L252.50,444.00 L253.00,444.00 L253.50,444.00 L254.00,444.00 L254.50,444.00 L255.00,444.00 L255.50,444.00 L256.00,444.00 L256.50,444.00 L257.00,444.00 L257.50,444.00 L258.00,444.00 L258.50,444.00 L259.00,444.00 L259.50,444.00 L260.00,444.00 L260.50,444.00 L261.00,444.00 L261.50,444.00 L262.00,444.00 L262.50,444.00 L263.00,444.00 L263.50,444.00 L264.00,444.00 L264.50,444.00 L265.00,444.00 L265.50,444.00 L266.00,444.00 L266.50,444.00 L267.00,444.00 L267.50,444.00 L268.00,444.00 L268.50,444.00 L269.00,444.00 L269.50,444.00 L270.00,444.00 L270.50,444.00 L271.00,444.00 L271.50,444.00 L272.00,444.00 L272.50,444.00 L273.00,444.00 L273.50,444.00 L274.00,444.00 L274.50,444.00 L275.00,444.00 L275.50,444.00 L276.00,444.00 L276.50,444.00 L277.00,444.00 L277.50,444.00 L278.00,444.00 L278.50,444.00 L279.00,444.00 L279.50,444.00 L280.00,444.00 L280.50,444.00 L281.00,444.00 L281.50,444.00 L282.00,444.00 L282.50,444.00 L283.00,444.00 L283.50,444.00 L284.00,444.00 L284.50,444.00 L285.00,444.00 L285.50,444.00 L286.00,444.00 L286.50,444.00 L287.00,444.00 L287.50,444.00 L288.00,444.00 L288.50,444.00 L289.00,444.00 L289.50,444.00 L290.00,444.00 L290.50,444.00 L291.00,444.00 L291.50,444.00 L292.00,444.00 L292.50,444.00 L293.00,444.00 L293.50,444.00 L294.00,444.00 L294.50,444.00 L295.00,444.00 L295.50,444.00 L296.00,444.00 L296.50,444.00 L297.00,444.00 L297.50,444.00 L298.00,444.00 L298.50,444.00 L299.00,444.00 L299.50,444.00 L300.00,444.00 L300.50,444.00 L301.00,444.00 L301.50,444.00 L302.00,444.00 L302.50,444.00 L303.00,444.00 L303.50,444.00 L304.00,444.00 L304.50,444.00 L305.00,444.00 L305.50,444.00 L306.00,444.00 L306.50,444.00 L307.00,444.00 L307.50,444.00 L308.00,444.00 L308.50,444.00 L309.00,444.00 L309.50,444.00 L310.00,444.00 L310.50,444.00 L311.00,444.00 L311.50,444.00 L312.00,444.00 L312.50,444.00 L313.00,444.00 L313.50,444.00 L314.00,444.00 L314.50,444.00 L315.00,444.00 L315.50,444.00 L316.00,444.00 L316.50,444.00 L317.00,444.00 L317.50,444.00 L318.00,444.00 L318.50,444.00 L319.00,444.00 L319.50,444.00 L320.00,444.00 L320.50,444.00 L321.00,444.00 L321.50,444.00 L322.00,444.00 L322.50,444.00 L323.00,444.00 L323.50,444.00 L324.00,444.00 L324.50,444.00 L325.00,444.00 L325.50,444.00 L326.00,444.00 L326.50,444.00 L327.00,444.00 L327.50,444.00 L328.00,444.00 L328.50,444.00 L329.00,444.00 L329.50,444.00 L330.00,444.00 L330.50,444.00 L331.00,444.00 L331.50,444.00 L332.00,444.00 L332.50,444.00 L333.00,444.00 L333.50,444.00 L334.00,444.00 L334.50,444.00 L335.00,444.00 L335.50,444.00 L336.00,444.00 L336.50,444.00 L337.00,444.00 L337.50,444.00 L338.00,444.00 L338.50,444.00 L339.00,444.00 L339.50,444.00 L340.00,444.00 L340.50,444.00 L341.00,444.00 L341.50,444.00 L342.00,444.00 L342.50,444.00 L343.00,444.00 L343.50,444.00 L344.00,444.00 L344.50,444.00 L345.00,444.00 L345.50,444.00 L346.00,444.00 L346.50,444.00 L347.00,444.00 L347.50,444.00 L348.00,444.00 L348.50,444.00 L349.00,444.00 L349.50,444.00 L350.00,444.00 L350.50,444.00 L351.00,444.00 L351.50,444.00 L352.00,444.00 L352.50,444.00 L353.00,444.00 L353.50,444.00 L354.00,444.00 L354.50,444.00 L355.00,444.00 L355.50,444.00 L356.00,444.00 L356.50,444.00 L357.00,444.00 L357.50,444.00 L358.00,444.00 L358.50,444.00 L359.00,444.00 L359.50,444.00 L360.00,444.00 L360.50,444.00 L361.00,444.00 L361.50,444.00 L362.00,444.00 L362.50,444.00 L363.00,444.00 L363.50,444.00 L364.00,444.00 L364.50,444.00 L365.00,444.00 L365.50,444.00 L366.00,444.00 L366.50,444.00 L367.00,444.00 L367.50,444.00 L368.00,444.00 L368.50,444.00 L369.00,444.00 L369.50,444.00 L370.00,444.00 L370.50,444.00 L371.00,444.00 L371.50,444.00 L372.00,444.00 L372.50,444.00 L373.00,444.00 L373.50,444.00 L374.00,444.00 L374.50,444.00 L375.00,444.00 L375.50,444.00 L376.00,444.00 L376.50,444.00 L377.00,444.00 L377.50,444.00 L378.00,444.00 L378.50,444.00 L379.00,444.00 L379.50,444.00 L380.00,444.00 L380.50,444.00 L381.00,444.00 L381.50,444.00 L382.00,444.00 L382.50,444.00 L383.00,444.00 L383.50,444.00 L384.00,444.00 L384.50,444.00 L385.00,444.00 L385.50,444.00 L386.00,444.00 L386.50,444.00 L387.00,444.00 L387.50,444.00 L388.00,444.00 L388.50,444.00 L389.00,444.00 L389.50,444.00 L390.00,444.00 L390.50,444.00 L391.00,444.00 L391.50,444.00 L392.00,444.00 L392.50,444.00 L393.00,444.00 L393.50,444.00 L394.00,444.00 L394.50,444.00 L395.00,444.00 L395.50,444.00 L396.00,444.00 L396.50,444.00 L397.00,444.00 L397.50,444.00 L398.00,444.00 L398.50,444.00 L399.00,444.00 L399.50,444.00 L400.00,444.00 L400.50,444.00 L401.00,444.00 L401.50,444.00 L402.00,444.00 L402.50,444.00 L403.00,444.00 L403.50,444.00 L404.00,444.00 L404.50,444.00 L405.00,444.00 L405.50,444.00 L406.00,444.00 L406.50,444.00 L407.00,444.00 L407.50,444.00 L408.00,444.00 L408.50,444.00 L409.00,444.00 L409.50,444.00 L410.00,444.00 L410.50,444.00 L411.00,444.00 L411.50,444.00 L412.00,444.00 L412.50,444.00 L413.00,444.00 L413.50,444.00 L414.00,444.00 L414.50,444.00 L415.00,444.00 L415.50,444.00 L416.00,444.00 L416.50,444.00 L417.00,444.00 L417.50,444.00 L418.00,444.00 L418.50,444.00 L419.00,444.00 L419.50,444.00 L420.00,444.00 L420.50,444.00 L421.00,444.00 L421.50,444.00 L422.00,444.00 L422.50,444.00 L423.00,444.00 L423.50,444.00 L424.00,444.00 L424.50,444.00 L425.00,444.00 L425.50,444.00 L426.00,444.00 L426.50,444.00 L427.00,444.00 L427.50,444.00 L428.00,444.00 L428.50,444.00 L429.00,444.00 L429.50,444.00 L430.00,444.00 L430.50,444.00 L431.00,444.00 L431.50,444.00 L432.00,444.00 L432.50,444.00 L433.00,444.00 L433.50,444.00 L434.00,444.00 L434.50,444.00 L435.00,444.00 L435.50,444.00 L436.00,444.00 L436.50,444.00 L437.00,444.00 L437.50,444.00 L438.00,444.00 L438.50,444.00 L439.00,444.00 L439.50,444.00 L440.00,444.00 L440.50,444.00 L441.00,444.00 L441.50,444.00 L442.00,444.00 L442.50,444.00 L443.00,444.00 L443.50,444.00 L444.00,444.00 L444.50,444.00 L445.00,444.00 L445.50,444.00 L446.00,444.00 L446.50,444.00 L447.00,444.00 L447.50,444.00 L448.00,444.00 L448.50,444.00 L449.00,444.00 L449.50,444.00 L450.00,444.00 L450.50,444.00 L451.00,444.00 L451.50,444.00 L452.00,444.00 L452.50,444.00 L453.00,444.00 L453.50,444.00 L454.00,444.00 L454.50,444.00 L455.00,444.00 L455.50,444.00 L456.00,444.00 L456.50,444.00 L457.00,444.00 L457.50,444.00 L458.00,444.00 L458.50,444.00 L459.00,444.00 L459.50,444.00 L460.00,444.00 L460.50,444.00 L461.00,444.00 L461.50,444.00 L462.00,444.00 L462.50,444.00 L463.00,444.00 L463.50,444.00 L464.00,444.00 L464.50,444.00 L465.00,444.00 L465.50,444.00 L466.00,444.00 L466.50,444.00 L467.00,444.00 L467.50,444.00 L468.00,444.00 L468.50,444.00 L469.00,444.00 L469.50,444.00 L470.00,444.00 L470.50,444.00 L471.00,444.00 L471.50,444.00 L472.00,444.00 L472.50,444.00 L473.00,444.00 L473.50,444.00 L474.00,444.00 L474.50,444.00 L475.00,444.00 L475.50,444.00 L476.00,444.00 L476.50,444.00 L477.00,444.00 L477.50,444.00 L478.00,444.00 L478.50,444.00 L479.00,444.00 L479.50,444.00 L480.00,444.00 L480.50,444.00 L481.00,444.00 L481.50,444.00 L482.00,444.00 L482.50,444.00 L483.00,444.00 L483.50,444.00 L484.00,444.00 L484.50,444.00 L485.00,444.00 L485.50,444.00 L486.00,444.00 L486.50,444.00 L487.00,444.00 L487.50,444.00 L488.00,444.00 L488.50,444.00 L489.00,444.00 L489.50,444.00 L490.00,444.00 L490.50,444.00 L491.00,444.00 L491.50,444.00 L492.00,444.00 L492.50,444.00 L493.00,444.00 L493.50,444.00 L494.00,444.00 L494.50,444.00 L495.00,444.00 L495.50,444.00 L496.00,444.00 L496.50,444.00 L497.00,444.00 L497.50,444.00 L498.00,444.00 L498.50,444.00 L499.00,444.00 L499.50,444.00 L500.00,444.00 L500.50,444.00 L501.00,444.00 L501.50,444.00 L502.00,444.00 L502.50,444.00 L503.00,444.00 L503.50,444.00 L504.00,444.00 L504.50,444.00 L505.00,444.00 L505.50,444.00 L506.00,444.00 L506.50,444.00 L507.00,444.00 L507.50,444.00 L508.00,444.00 L508.50,444.00 L509.00,444.00 L509.50,444.00 L510.00,444.00 L510.50,444.00 L511.00,444.00 L511.50,444.00 L512.00,444.00 L512.50,444.00 L513.00,444.00 L513.50,444.00 L514.00,444.00 L514.50,444.00 L515.00,444.00 L515.50,444.00 L516.00,444.00 L516.50,444.00 L517.00,444.00 L517.50,444.00 L518.00,444.00 L518.50,444.00 L519.00,444.00 L519.50,444.00 L520.00,444.00 L520.50,444.00 L521.00,444.00 L521.50,444.00 L522.00,444.00 L522.50,444.00 L523.00,444.00 L523.50,444.00 L524.00,444.00 L524.50,444.00 L525.00,444.00 L525.50,444.00 L526.00,444.00 L526.50,444.00 L527.00,444.00 L527.50,444.00 L528.00,444.00 L528.50,444.00 L529.00,444.00 L529.50,444.00 L530.00,444.00 L530.50,444.00 L531.00,444.00 L531.50,444.00 L532.00,444.00 L532.50,444.00 L533.00,444.00 L533.50,444.00 L534.00,444.00 L534.50,444.00 L535.00,444.00 L535.50,444.00 L536.00,444.00 L536.50,444.00 L537.00,444.00 L537.50,444.00 L538.00,444.00 L538.50,444.00 L539.00,444.00 L539.50,444.00 L540.00,444.00 L540.50,444.00 L541.00,444.00 L541.50,444.00 L542.00,444.00 L542.50,444.00 L543.00,444.00 L543.50,444.00 L544.00,444.00 L544.50,444.00 L545.00,444.00 L545.50,444.00 L546.00,444.00 L546.50,444.00 L547.00,444.00 L547.50,444.00 L548.00,444.00 L548.50,444.00 L549.00,444.00 L549.50,444.00 L550.00,444.00 L550.50,444.00 L551.00,444.00 L551.50,444.00 L552.00,444.00 L552.50,444.00 L553.00,444.00 L553.50,444.00 L554.00,444.00 L554.50,444.00 L555.00,444.00 L555.50,444.00 L556.00,444.00 L556.50,444.00 L557.00,444.00 L557.50,444.00 L558.00,444.00" fill="none" stroke="#ff2626" stroke-width="2.1" stroke-linejoin="round"/>
<path d="M130.00,444.00 L130.50,444.00 L131.00,444.00 L131.50,444.00 L132.00,444.00 L132.50,444.00 L133.00,444.00 L133.50,444.00 L134.00,444.00 L134.50,444.00 L135.00,444.00 L135.50,444.00 L136.00,444.00 L136.50,444.00 L137.00,444.00 L137.50,444.00 L138.00,444.00 L138.50,444.00 L139.00,444.00 L139.50,444.00 L140.00,444.00 L140.50,444.00 L141.00,444.00 L141.50,444.00 L142.00,444.00 L142.50,444.00 L143.00,444.00 L143.50,444.00 L144.00,444.00 L144.50,444.00 L145.00,444.00 L145.50,444.00 L146.00,444.00 L146.50,444.00 L147.00,444.00 L147.50,444.00 L148.00,444.00 L148.50,444.00 L149.00,444.00 L149.50,444.00 L150.00,444.00 L150.50,444.00 L151.00,444.00 L151.50,444.00 L152.00,444.00 L152.50,444.00 L153.00,444.00 L153.50,444.00 L154.00,444.00 L154.50,444.00 L155.00,444.00 L155.50,444.00 L156.00,444.00 L156.50,444.00 L157.00,444.00 L157.50,444.00 L158.00,444.00 L158.50,444.00 L159.00,444.00 L159.50,444.00 L160.00,444.00 L160.50,444.00 L161.00,444.00 L161.50,444.00 L162.00,444.00 L162.50,444.00 L163.00,444.00 L163.50,444.00 L164.00,444.00 L164.50,444.00 L165.00,444.00 L165.50,444.00 L166.00,444.00 L166.50,444.00 L167.00,444.00 L167.50,444.00 L168.00,444.00 L168.50,444.00 L169.00,444.00 L169.50,444.00 L170.00,444.00 L170.50,444.00 L171.00,444.00 L171.50,444.00 L172.00,444.00 L172.50,444.00 L173.00,444.00 L173.50,444.00 L174.00,444.00 L174.50,444.00 L175.00,444.00 L175.50,444.00 L176.00,444.00 L176.50,444.00 L177.00,444.00 L177.50,444.00 L178.00,444.00 L178.50,444.00 L179.00,444.00 L179.50,444.00 L180.00,444.00 L180.50,444.00 L181.00,444.00 L181.50,444.00 L182.00,444.00 L182.50,444.00 L183.00,444.00 L183.50,444.00 L184.00,444.00 L184.50,444.00 L185.00,444.00 L185.50,444.00 L186.00,444.00 L186.50,444.00 L187.00,443.99 L187.50,443.99 L188.00,443.99 L188.50,443.98 L189.00,443.98 L189.50,443.97 L190.00,443.95 L190.50,443.94 L191.00,443.91 L191.50,443.88 L192.00,443.84 L192.50,443.78 L193.00,443.71 L193.50,443.62 L194.00,443.49 L194.50,443.34 L195.00,443.15 L195.50,442.91 L196.00,442.61 L196.50,442.24 L197.00,441.79 L197.50,441.24 L198.00,440.59 L198.50,439.81 L199.00,438.89 L199.50,437.81 L200.00,436.56 L200.50,435.11 L201.00,433.45 L201.50,431.56 L202.00,429.43 L202.50,427.03 L203.00,424.37 L203.50,421.43 L204.00,418.19 L204.50,414.66 L205.00,410.84 L205.50,406.72 L206.00,402.32 L206.50,397.64 L207.00,392.70 L207.50,387.51 L208.00,382.11 L208.50,376.51 L209.00,370.75 L209.50,364.86 L210.00,358.88 L210.50,352.86 L211.00,346.82 L211.50,340.83 L212.00,334.94 L212.50,329.18 L213.00,323.63 L213.50,318.33 L214.00,313.33 L214.50,308.69 L215.00,304.46 L215.50,300.70 L216.00,297.45 L216.50,294.75 L217.00,292.65 L217.50,291.17 L218.00,290.36 L218.50,290.22 L219.00,290.77 L219.50,292.02 L220.00,293.95 L220.50,296.56 L221.00,299.82 L221.50,303.70 L222.00,308.15 L222.50,313.13 L223.00,318.59 L223.50,324.45 L224.00,330.64 L224.50,337.11 L225.00,343.77 L225.50,350.54 L226.00,357.37 L226.50,364.16 L227.00,370.86 L227.50,377.41 L228.00,383.74 L228.50,389.82 L229.00,395.59 L229.50,401.02 L230.00,406.09 L230.50,410.79 L231.00,415.10 L231.50,419.02 L232.00,422.56 L232.50,425.73 L233.00,428.54 L233.50,431.01 L234.00,433.16 L234.50,435.03 L235.00,436.62 L235.50,437.98 L236.00,439.13 L236.50,440.08 L237.00,440.88 L237.50,441.53 L238.00,442.06 L238.50,442.49 L239.00,442.83 L239.50,443.10 L240.00,443.31 L240.50,443.48 L241.00,443.61 L241.50,443.70 L242.00,443.78 L242.50,443.83 L243.00,443.87 L243.50,443.89 L244.00,443.91 L244.50,443.92 L245.00,443.92 L245.50,443.93 L246.00,443.92 L246.50,443.92 L247.00,443.91 L247.50,443.90 L248.00,443.89 L248.50,443.88 L249.00,443.87 L249.50,443.85 L250.00,443.84 L250.50,443.83 L251.00,443.81 L251.50,443.80 L252.00,443.79 L252.50,443.78 L253.00,443.77 L253.50,443.76 L254.00,443.76 L254.50,443.75 L255.00,443.75 L255.50,443.75 L256.00,443.75 L256.50,443.75 L257.00,443.75 L257.50,443.76 L258.00,443.76 L258.50,443.77 L259.00,443.78 L259.50,443.79 L260.00,443.80 L260.50,443.81 L261.00,443.82 L261.50,443.84 L262.00,443.85 L262.50,443.86 L263.00,443.87 L263.50,443.89 L264.00,443.90 L264.50,443.91 L265.00,443.92 L265.50,443.93 L266.00,443.94 L266.50,443.95 L267.00,443.95 L267.50,443.96 L268.00,443.97 L268.50,443.97 L269.00,443.98 L269.50,443.98 L270.00,443.98 L270.50,443.99 L271.00,443.99 L271.50,443.99 L272.00,443.99 L272.50,443.99 L273.00,444.00 L273.50,444.00 L274.00,444.00 L274.50,444.00 L275.00,444.00 L275.50,444.00 L276.00,444.00 L276.50,444.00 L277.00,444.00 L277.50,444.00 L278.00,444.00 L278.50,444.00 L279.00,444.00 L279.50,444.00 L280.00,444.00 L280.50,444.00 L281.00,444.00 L281.50,444.00 L282.00,444.00 L282.50,444.00 L283.00,444.00 L283.50,444.00 L284.00,444.00 L284.50,444.00 L285.00,444.00 L285.50,444.00 L286.00,444.00 L286.50,444.00 L287.00,444.00 L287.50,444.00 L288.00,444.00 L288.50,444.00 L289.00,444.00 L289.50,444.00 L290.00,444.00 L290.50,444.00 L291.00,444.00 L291.50,444.00 L292.00,444.00 L292.50,444.00 L293.00,444.00 L293.50,443.99 L294.00,443.99 L294.50,443.99 L295.00,443.99 L295.50,443.98 L296.00,443.97 L296.50,443.96 L297.00,443.95 L297.50,443.94 L298.00,443.92 L298.50,443.89 L299.00,443.86 L299.50,443.82 L300.00,443.77 L300.50,443.70 L301.00,443.63 L301.50,443.53 L302.00,443.42 L302.50,443.28 L303.00,443.12 L303.50,442.92 L304.00,442.69 L304.50,442.42 L305.00,442.11 L305.50,441.75 L306.00,441.33 L306.50,440.86 L307.00,440.32 L307.50,439.70 L308.00,439.01 L308.50,438.23 L309.00,437.36 L309.50,436.39 L310.00,435.32 L310.50,434.13 L311.00,432.83 L311.50,431.40 L312.00,429.84 L312.50,428.15 L313.00,426.32 L313.50,424.35 L314.00,422.23 L314.50,419.97 L315.00,417.57 L315.50,415.03 L316.00,412.35 L316.50,409.55 L317.00,406.63 L317.50,403.61 L318.00,400.51 L318.50,397.35 L319.00,394.14 L319.50,390.92 L320.00,387.71 L320.50,384.54 L321.00,381.44 L321.50,378.45 L322.00,375.60 L322.50,372.93 L323.00,370.45 L323.50,368.22 L324.00,366.25 L324.50,364.57 L325.00,363.21 L325.50,362.18 L326.00,361.50 L326.50,361.18 L327.00,361.22 L327.50,361.62 L328.00,362.38 L328.50,363.48 L329.00,364.92 L329.50,366.67 L330.00,368.70 L330.50,371.00 L331.00,373.52 L331.50,376.25 L332.00,379.14 L332.50,382.17 L333.00,385.30 L333.50,388.49 L334.00,391.71 L334.50,394.94 L335.00,398.15 L335.50,401.31 L336.00,404.39 L336.50,407.39 L337.00,410.27 L337.50,413.04 L338.00,415.67 L338.50,418.15 L339.00,420.49 L339.50,422.68 L340.00,424.72 L340.50,426.60 L341.00,428.34 L341.50,429.92 L342.00,431.36 L342.50,432.66 L343.00,433.83 L343.50,434.86 L344.00,435.77 L344.50,436.56 L345.00,437.23 L345.50,437.79 L346.00,438.24 L346.50,438.58 L347.00,438.82 L347.50,438.96 L348.00,439.00 L348.50,438.95 L349.00,438.81 L349.50,438.57 L350.00,438.25 L350.50,437.83 L351.00,437.34 L351.50,436.76 L352.00,436.11 L352.50,435.38 L353.00,434.58 L353.50,433.71 L354.00,432.77 L354.50,431.78 L355.00,430.73 L355.50,429.64 L356.00,428.50 L356.50,427.32 L357.00,426.11 L357.50,424.88 L358.00,423.63 L358.50,422.36 L359.00,421.09 L359.50,419.82 L360.00,418.55 L360.50,417.30 L361.00,416.06 L361.50,414.85 L362.00,413.67 L362.50,412.53 L363.00,411.42 L363.50,410.36 L364.00,409.35 L364.50,408.38 L365.00,407.47 L365.50,406.62 L366.00,405.83 L366.50,405.09 L367.00,404.42 L367.50,403.81 L368.00,403.25 L368.50,402.76 L369.00,402.33 L369.50,401.96 L370.00,401.64 L370.50,401.38 L371.00,401.17 L371.50,401.01 L372.00,400.89 L372.50,400.81 L373.00,400.77 L373.50,400.77 L374.00,400.79 L374.50,400.83 L375.00,400.89 L375.50,400.97 L376.00,401.05 L376.50,401.14 L377.00,401.22 L377.50,401.29 L378.00,401.35 L378.50,401.39 L379.00,401.41 L379.50,401.40 L380.00,401.36 L380.50,401.28 L381.00,401.17 L381.50,401.03 L382.00,400.86 L382.50,400.65 L383.00,400.42 L383.50,400.17 L384.00,399.90 L384.50,399.62 L385.00,399.35 L385.50,399.09 L386.00,398.86 L386.50,398.67 L387.00,398.53 L387.50,398.46 L388.00,398.47 L388.50,398.58 L389.00,398.79 L389.50,399.12 L390.00,399.58 L390.50,400.17 L391.00,400.90 L391.50,401.78 L392.00,402.79 L392.50,403.95 L393.00,405.24 L393.50,406.66 L394.00,408.19 L394.50,409.82 L395.00,411.53 L395.50,413.30 L396.00,415.12 L396.50,416.96 L397.00,418.79 L397.50,420.61 L398.00,422.38 L398.50,424.08 L399.00,425.70 L399.50,427.21 L400.00,428.60 L400.50,429.86 L401.00,430.97 L401.50,431.92 L402.00,432.70 L402.50,433.32 L403.00,433.77 L403.50,434.06 L404.00,434.18 L404.50,434.14 L405.00,433.95 L405.50,433.63 L406.00,433.19 L406.50,432.63 L407.00,431.99 L407.50,431.26 L408.00,430.48 L408.50,429.65 L409.00,428.80 L409.50,427.95 L410.00,427.11 L410.50,426.30 L411.00,425.54 L411.50,424.83 L412.00,424.19 L412.50,423.64 L413.00,423.18 L413.50,422.82 L414.00,422.56 L414.50,422.40 L415.00,422.35 L415.50,422.41 L416.00,422.56 L416.50,422.81 L417.00,423.15 L417.50,423.57 L418.00,424.06 L418.50,424.61 L419.00,425.21 L419.50,425.85 L420.00,426.51 L420.50,427.19 L421.00,427.88 L421.50,428.55 L422.00,429.21 L422.50,429.85 L423.00,430.45 L423.50,431.01 L424.00,431.52 L424.50,431.98 L425.00,432.38 L425.50,432.73 L426.00,433.01 L426.50,433.24 L427.00,433.41 L427.50,433.52 L428.00,433.57 L428.50,433.58 L429.00,433.53 L429.50,433.44 L430.00,433.31 L430.50,433.14 L431.00,432.93 L431.50,432.69 L432.00,432.41 L432.50,432.11 L433.00,431.78 L433.50,431.41 L434.00,431.01 L434.50,430.58 L435.00,430.12 L435.50,429.61 L436.00,429.06 L436.50,428.47 L437.00,427.82 L437.50,427.13 L438.00,426.38 L438.50,425.57 L439.00,424.70 L439.50,423.77 L440.00,422.78 L440.50,421.73 L441.00,420.63 L441.50,419.47 L442.00,418.26 L442.50,417.00 L443.00,415.71 L443.50,414.39 L444.00,413.04 L444.50,411.68 L445.00,410.30 L445.50,408.93 L446.00,407.57 L446.50,406.23 L447.00,404.90 L447.50,403.61 L448.00,402.35 L448.50,401.14 L449.00,399.96 L449.50,398.84 L450.00,397.76 L450.50,396.74 L451.00,395.77 L451.50,394.85 L452.00,393.98 L452.50,393.17 L453.00,392.41 L453.50,391.70 L454.00,391.04 L454.50,390.43 L455.00,389.88 L455.50,389.38 L456.00,388.94 L456.50,388.56 L457.00,388.24 L457.50,388.00 L458.00,387.82 L458.50,387.72 L459.00,387.71 L459.50,387.78 L460.00,387.95 L460.50,388.22 L461.00,388.60 L461.50,389.08 L462.00,389.67 L462.50,390.38 L463.00,391.20 L463.50,392.14 L464.00,393.19 L464.50,394.34 L465.00,395.60 L465.50,396.96 L466.00,398.41 L466.50,399.93 L467.00,401.53 L467.50,403.19 L468.00,404.91 L468.50,406.66 L469.00,408.43 L469.50,410.22 L470.00,412.02 L470.50,413.80 L471.00,415.57 L471.50,417.31 L472.00,419.01 L472.50,420.67 L473.00,422.27 L473.50,423.81 L474.00,425.29 L474.50,426.70 L475.00,428.04 L475.50,429.31 L476.00,430.50 L476.50,431.62 L477.00,432.67 L477.50,433.64 L478.00,434.55 L478.50,435.39 L479.00,436.17 L479.50,436.89 L480.00,437.55 L480.50,438.16 L481.00,438.71 L481.50,439.22 L482.00,439.69 L482.50,440.11 L483.00,440.50 L483.50,440.85 L484.00,441.17 L484.50,441.46 L485.00,441.72 L485.50,441.96 L486.00,442.18 L486.50,442.37 L487.00,442.55 L487.50,442.71 L488.00,442.85 L488.50,442.98 L489.00,443.10 L489.50,443.20 L490.00,443.29 L490.50,443.37 L491.00,443.45 L491.50,443.51 L492.00,443.57 L492.50,443.62 L493.00,443.67 L493.50,443.71 L494.00,443.75 L494.50,443.78 L495.00,443.81 L495.50,443.84 L496.00,443.86 L496.50,443.88 L497.00,443.90 L497.50,443.91 L498.00,443.93 L498.50,443.94 L499.00,443.95 L499.50,443.96 L500.00,443.97 L500.50,443.97 L501.00,443.98 L501.50,443.98 L502.00,443.99 L502.50,443.99 L503.00,443.99 L503.50,443.99 L504.00,443.99 L504.50,444.00 L505.00,444.00 L505.50,444.00 L506.00,444.00 L506.50,444.00 L507.00,444.00 L507.50,444.00 L508.00,444.00 L508.50,444.00 L509.00,444.00 L509.50,444.00 L510.00,444.00 L510.50,444.00 L511.00,444.00 L511.50,444.00 L512.00,444.00 L512.50,444.00 L513.00,444.00 L513.50,444.00 L514.00,444.00 L514.50,444.00 L515.00,444.00 L515.50,444.00 L516.00,444.00 L516.50,444.00 L517.00,444.00 L517.50,444.00 L518.00,444.00 L518.50,444.00 L519.00,444.00 L519.50,444.00 L520.00,444.00 L520.50,444.00 L521.00,444.00 L521.50,444.00 L522.00,444.00 L522.50,444.00 L523.00,444.00 L523.50,444.00 L524.00,444.00 L524.50,444.00 L525.00,444.00 L525.50,444.00 L526.00,444.00 L526.50,444.00 L527.00,444.00 L527.50,444.00 L528.00,444.00 L528.50,444.00 L529.00,444.00 L529.50,444.00 L530.00,444.00 L530.50,444.00 L531.00,444.00 L531.50,444.00 L532.00,444.00 L532.50,444.00 L533.00,444.00 L533.50,444.00 L534.00,444.00 L534.50,444.00 L535.00,444.00 L535.50,444.00 L536.00,444.00 L536.50,444.00 L537.00,444.00 L537.50,444.00 L538.00,444.00 L538.50,444.00 L539.00,444.00 L539.50,444.00 L540.00,444.00 L540.50,444.00 L541.00,444.00 L541.50,444.00 L542.00,444.00 L542.50,444.00 L543.00,444.00 L543.50,444.00 L544.00,444.00 L544.50,444.00 L545.00,444.00 L545.50,444.00 L546.00,444.00 L546.50,444.00 L547.00,444.00 L547.50,444.00 L548.00,444.00 L548.50,444.00 L549.00,444.00 L549.50,444.00 L550.00,444.00 L550.50,444.00 L551.00,444.00 L551.50,444.00 L552.00,444.00 L552.50,444.00 L553.00,444.00 L553.50,444.00 L554.00,444.00 L554.50,444.00 L555.00,444.00 L555.50,444.00 L556.00,444.00 L556.50,444.00 L557.00,444.00 L557.50,444.00 L558.00,444.00" fill="none" stroke="#2626ff" stroke-width="2.1" stroke-linejoin="round" stroke-dasharray="7.3,3.5"/>
<path d="M130.00,438.71 L130.50,437.91 L131.00,437.02 L131.50,436.04 L132.00,434.97 L132.50,433.79 L133.00,432.51 L133.50,431.11 L134.00,429.60 L134.50,427.96 L135.00,426.20 L135.50,424.31 L136.00,422.29 L136.50,420.13 L137.00,417.84 L137.50,415.41 L138.00,412.84 L138.50,410.15 L139.00,407.33 L139.50,404.40 L140.00,401.37 L140.50,398.25 L141.00,395.06 L141.50,391.82 L142.00,388.56 L142.50,385.30 L143.00,382.07 L143.50,378.90 L144.00,375.83 L144.50,372.89 L145.00,370.11 L145.50,367.52 L146.00,365.17 L146.50,363.08 L147.00,361.29 L147.50,359.81 L148.00,358.67 L148.50,357.89 L149.00,357.48 L149.50,357.45 L150.00,357.80 L150.50,358.54 L151.00,359.64 L151.50,361.10 L152.00,362.91 L152.50,365.03 L153.00,367.44 L153.50,370.12 L154.00,373.02 L154.50,376.12 L155.00,379.37 L155.50,382.75 L156.00,386.21 L156.50,389.73 L157.00,393.26 L157.50,396.77 L158.00,400.24 L158.50,403.65 L159.00,406.95 L159.50,410.14 L160.00,413.20 L160.50,416.10 L161.00,418.85 L161.50,421.44 L162.00,423.85 L162.50,426.08 L163.00,428.13 L163.50,430.01 L164.00,431.71 L164.50,433.24 L165.00,434.60 L165.50,435.80 L166.00,436.84 L166.50,437.73 L167.00,438.46 L167.50,439.04 L168.00,439.48 L168.50,439.77 L169.00,439.91 L169.50,439.91 L170.00,439.76 L170.50,439.45 L171.00,438.98 L171.50,438.35 L172.00,437.55 L172.50,436.57 L173.00,435.41 L173.50,434.06 L174.00,432.52 L174.50,430.79 L175.00,428.88 L175.50,426.77 L176.00,424.49 L176.50,422.04 L177.00,419.44 L177.50,416.69 L178.00,413.83 L178.50,410.87 L179.00,407.85 L179.50,404.77 L180.00,401.69 L180.50,398.61 L181.00,395.58 L181.50,392.61 L182.00,389.74 L182.50,386.99 L183.00,384.38 L183.50,381.93 L184.00,379.64 L184.50,377.54 L185.00,375.63 L185.50,373.92 L186.00,372.40 L186.50,371.08 L187.00,369.95 L187.50,369.01 L188.00,368.26 L188.50,367.68 L189.00,367.26 L189.50,367.01 L190.00,366.92 L190.50,366.98 L191.00,367.18 L191.50,367.51 L192.00,367.97 L192.50,368.56 L193.00,369.26 L193.50,370.06 L194.00,370.96 L194.50,371.93 L195.00,372.97 L195.50,374.06 L196.00,375.17 L196.50,376.29 L197.00,377.39 L197.50,378.45 L198.00,379.43 L198.50,380.32 L199.00,381.09 L199.50,381.72 L200.00,382.18 L200.50,382.47 L201.00,382.56 L201.50,382.46 L202.00,382.16 L202.50,381.66 L203.00,380.98 L203.50,380.13 L204.00,379.13 L204.50,378.02 L205.00,376.83 L205.50,375.59 L206.00,374.35 L206.50,373.14 L207.00,372.02 L207.50,371.01 L208.00,370.17 L208.50,369.53 L209.00,369.13 L209.50,368.98 L210.00,369.12 L210.50,369.55 L211.00,370.30 L211.50,371.36 L212.00,372.73 L212.50,374.39 L213.00,376.34 L213.50,378.54 L214.00,380.98 L214.50,383.62 L215.00,386.43 L215.50,389.37 L216.00,392.41 L216.50,395.52 L217.00,398.65 L217.50,401.79 L218.00,404.89 L218.50,407.92 L219.00,410.88 L219.50,413.72 L220.00,416.45 L220.50,419.04 L221.00,421.48 L221.50,423.76 L222.00,425.89 L222.50,427.86 L223.00,429.68 L223.50,431.34 L224.00,432.85 L224.50,434.22 L225.00,435.46 L225.50,436.57 L226.00,437.56 L226.50,438.44 L227.00,439.22 L227.50,439.91 L228.00,440.52 L228.50,441.04 L229.00,441.50 L229.50,441.90 L230.00,442.24 L230.50,442.54 L231.00,442.79 L231.50,443.00 L232.00,443.18 L232.50,443.34 L233.00,443.46 L233.50,443.57 L234.00,443.65 L234.50,443.73 L235.00,443.78 L235.50,443.83 L236.00,443.87 L236.50,443.90 L237.00,443.92 L237.50,443.94 L238.00,443.96 L238.50,443.97 L239.00,443.97 L239.50,443.98 L240.00,443.99 L240.50,443.99 L241.00,443.99 L241.50,443.99 L242.00,444.00 L242.50,444.00 L243.00,444.00 L243.50,444.00 L244.00,444.00 L244.50,444.00 L245.00,444.00 L245.50,444.00 L246.00,444.00 L246.50,444.00 L247.00,444.00 L247.50,444.00 L248.00,444.00 L248.50,444.00 L249.00,444.00 L249.50,444.00 L250.00,444.00 L250.50,444.00 L251.00,444.00 L251.50,444.00 L252.00,444.00 L252.50,444.00 L253.00,444.00 L253.50,444.00 L254.00,444.00 L254.50,444.00 L255.00,444.00 L255.50,444.00 L256.00,444.00 L256.50,444.00 L257.00,444.00 L257.50,444.00 L258.00,444.00 L258.50,444.00 L259.00,444.00 L259.50,444.00 L260.00,444.00 L260.50,444.00 L261.00,444.00 L261.50,444.00 L262.00,444.00 L262.50,444.00 L263.00,444.00 L263.50,444.00 L264.00,444.00 L264.50,444.00 L265.00,444.00 L265.50,444.00 L266.00,444.00 L266.50,444.00 L267.00,444.00 L267.50,444.00 L268.00,444.00 L268.50,444.00 L269.00,444.00 L269.50,444.00 L270.00,444.00 L270.50,444.00 L271.00,444.00 L271.50,444.00 L272.00,444.00 L272.50,444.00 L273.00,444.00 L273.50,444.00 L274.00,444.00 L274.50,444.00 L275.00,444.00 L275.50,444.00 L276.00,444.00 L276.50,444.00 L277.00,444.00 L277.50,444.00 L278.00,444.00 L278.50,444.00 L279.00,444.00 L279.50,444.00 L280.00,444.00 L280.50,444.00 L281.00,444.00 L281.50,444.00 L282.00,444.00 L282.50,444.00 L283.00,444.00 L283.50,444.00 L284.00,444.00 L284.50,444.00 L285.00,444.00 L285.50,444.00 L286.00,444.00 L286.50,444.00 L287.00,444.00 L287.50,444.00 L288.00,444.00 L288.50,444.00 L289.00,444.00 L289.50,444.00 L290.00,444.00 L290.50,444.00 L291.00,444.00 L291.50,444.00 L292.00,444.00 L292.50,444.00 L293.00,444.00 L293.50,444.00 L294.00,444.00 L294.50,444.00 L295.00,444.00 L295.50,444.00 L296.00,444.00 L296.50,444.00 L297.00,444.00 L297.50,444.00 L298.00,444.00 L298.50,444.00 L299.00,444.00 L299.50,444.00 L300.00,444.00 L300.50,444.00 L301.00,444.00 L301.50,444.00 L302.00,444.00 L302.50,444.00 L303.00,444.00 L303.50,444.00 L304.00,444.00 L304.50,444.00 L305.00,444.00 L305.50,444.00 L306.00,444.00 L306.50,444.00 L307.00,444.00 L307.50,444.00 L308.00,444.00 L308.50,444.00 L309.00,444.00 L309.50,444.00 L310.00,444.00 L310.50,444.00 L311.00,444.00 L311.50,444.00 L312.00,444.00 L312.50,444.00 L313.00,444.00 L313.50,444.00 L314.00,444.00 L314.50,444.00 L315.00,444.00 L315.50,444.00 L316.00,444.00 L316.50,444.00 L317.00,444.00 L317.50,444.00 L318.00,444.00 L318.50,444.00 L319.00,444.00 L319.50,444.00 L320.00,444.00 L320.50,444.00 L321.00,444.00 L321.50,444.00 L322.00,444.00 L322.50,444.00 L323.00,444.00 L323.50,444.00 L324.00,444.00 L324.50,444.00 L325.00,444.00 L325.50,444.00 L326.00,444.00 L326.50,444.00 L327.00,444.00 L327.50,444.00 L328.00,444.00 L328.50,444.00 L329.00,444.00 L329.50,444.00 L330.00,444.00 L330.50,444.00 L331.00,444.00 L331.50,444.00 L332.00,444.00 L332.50,444.00 L333.00,444.00 L333.50,444.00 L334.00,444.00 L334.50,444.00 L335.00,444.00 L335.50,444.00 L336.00,444.00 L336.50,444.00 L337.00,444.00 L337.50,444.00 L338.00,444.00 L338.50,444.00 L339.00,444.00 L339.50,444.00 L340.00,444.00 L340.50,444.00 L341.00,444.00 L341.50,444.00 L342.00,444.00 L342.50,444.00 L343.00,444.00 L343.50,444.00 L344.00,444.00 L344.50,444.00 L345.00,444.00 L345.50,444.00 L346.00,444.00 L346.50,444.00 L347.00,444.00 L347.50,444.00 L348.00,444.00 L348.50,444.00 L349.00,444.00 L349.50,444.00 L350.00,444.00 L350.50,444.00 L351.00,444.00 L351.50,444.00 L352.00,444.00 L352.50,444.00 L353.00,444.00 L353.50,444.00 L354.00,444.00 L354.50,444.00 L355.00,444.00 L355.50,444.00 L356.00,444.00 L356.50,444.00 L357.00,444.00 L357.50,444.00 L358.00,444.00 L358.50,444.00 L359.00,444.00 L359.50,444.00 L360.00,444.00 L360.50,444.00 L361.00,444.00 L361.50,444.00 L362.00,444.00 L362.50,444.00 L363.00,444.00 L363.50,444.00 L364.00,444.00 L364.50,444.00 L365.00,444.00 L365.50,444.00 L366.00,444.00 L366.50,444.00 L367.00,444.00 L367.50,444.00 L368.00,444.00 L368.50,444.00 L369.00,444.00 L369.50,444.00 L370.00,444.00 L370.50,444.00 L371.00,444.00 L371.50,444.00 L372.00,444.00 L372.50,444.00 L373.00,444.00 L373.50,444.00 L374.00,444.00 L374.50,444.00 L375.00,444.00 L375.50,444.00 L376.00,444.00 L376.50,444.00 L377.00,444.00 L377.50,444.00 L378.00,444.00 L378.50,444.00 L379.00,444.00 L379.50,444.00 L380.00,444.00 L380.50,444.00 L381.00,444.00 L381.50,444.00 L382.00,444.00 L382.50,444.00 L383.00,444.00 L383.50,444.00 L384.00,444.00 L384.50,444.00 L385.00,444.00 L385.50,444.00 L386.00,444.00 L386.50,444.00 L387.00,444.00 L387.50,444.00 L388.00,444.00 L388.50,444.00 L389.00,444.00 L389.50,444.00 L390.00,444.00 L390.50,444.00 L391.00,444.00 L391.50,444.00 L392.00,444.00 L392.50,444.00 L393.00,444.00 L393.50,444.00 L394.00,444.00 L394.50,444.00 L395.00,444.00 L395.50,444.00 L396.00,444.00 L396.50,444.00 L397.00,444.00 L397.50,444.00 L398.00,444.00 L398.50,444.00 L399.00,444.00 L399.50,444.00 L400.00,444.00 L400.50,444.00 L401.00,444.00 L401.50,444.00 L402.00,444.00 L402.50,444.00 L403.00,444.00 L403.50,444.00 L404.00,444.00 L404.50,444.00 L405.00,444.00 L405.50,444.00 L406.00,444.00 L406.50,444.00 L407.00,444.00 L407.50,444.00 L408.00,444.00 L408.50,444.00 L409.00,444.00 L409.50,444.00 L410.00,444.00 L410.50,444.00 L411.00,444.00 L411.50,444.00 L412.00,444.00 L412.50,444.00 L413.00,444.00 L413.50,444.00 L414.00,444.00 L414.50,444.00 L415.00,444.00 L415.50,444.00 L416.00,444.00 L416.50,444.00 L417.00,444.00 L417.50,444.00 L418.00,444.00 L418.50,444.00 L419.00,444.00 L419.50,444.00 L420.00,444.00 L420.50,444.00 L421.00,444.00 L421.50,444.00 L422.00,444.00 L422.50,444.00 L423.00,444.00 L423.50,444.00 L424.00,444.00 L424.50,444.00 L425.00,444.00 L425.50,444.00 L426.00,444.00 L426.50,444.00 L427.00,444.00 L427.50,444.00 L428.00,444.00 L428.50,444.00 L429.00,444.00 L429.50,444.00 L430.00,444.00 L430.50,444.00 L431.00,444.00 L431.50,444.00 L432.00,444.00 L432.50,444.00 L433.00,444.00 L433.50,444.00 L434.00,444.00 L434.50,444.00 L435.00,444.00 L435.50,444.00 L436.00,444.00 L436.50,444.00 L437.00,444.00 L437.50,444.00 L438.00,444.00 L438.50,444.00 L439.00,444.00 L439.50,444.00 L440.00,444.00 L440.50,444.00 L441.00,444.00 L441.50,444.00 L442.00,444.00 L442.50,444.00 L443.00,444.00 L443.50,444.00 L444.00,444.00 L444.50,444.00 L445.00,444.00 L445.50,444.00 L446.00,444.00 L446.50,444.00 L447.00,444.00 L447.50,444.00 L448.00,444.00 L448.50,444.00 L449.00,444.00 L449.50,444.00 L450.00,444.00 L450.50,444.00 L451.00,444.00 L451.50,444.00 L452.00,444.00 L452.50,444.00 L453.00,444.00 L453.50,444.00 L454.00,444.00 L454.50,444.00 L455.00,444.00 L455.50,444.00 L456.00,444.00 L456.50,444.00 L457.00,444.00 L457.50,444.00 L458.00,444.00 L458.50,444.00 L459.00,444.00 L459.50,444.00 L460.00,444.00 L460.50,444.00 L461.00,444.00 L461.50,444.00 L462.00,444.00 L462.50,444.00 L463.00,444.00 L463.50,444.00 L464.00,444.00 L464.50,444.00 L465.00,444.00 L465.50,444.00 L466.00,444.00 L466.50,444.00 L467.00,444.00 L467.50,444.00 L468.00,444.00 L468.50,444.00 L469.00,444.00 L469.50,444.00 L470.00,444.00 L470.50,444.00 L471.00,444.00 L471.50,444.00 L472.00,444.00 L472.50,444.00 L473.00,444.00 L473.50,444.00 L474.00,444.00 L474.50,444.00 L475.00,444.00 L475.50,444.00 L476.00,444.00 L476.50,444.00 L477.00,444.00 L477.50,444.00 L478.00,444.00 L478.50,444.00 L479.00,444.00 L479.50,444.00 L480.00,444.00 L480.50,444.00 L481.00,444.00 L481.50,444.00 L482.00,444.00 L482.50,444.00 L483.00,444.00 L483.50,444.00 L484.00,444.00 L484.50,444.00 L485.00,444.00 L485.50,444.00 L486.00,444.00 L486.50,444.00 L487.00,444.00 L487.50,444.00 L488.00,444.00 L488.50,444.00 L489.00,444.00 L489.50,444.00 L490.00,444.00 L490.50,444.00 L491.00,444.00 L491.50,444.00 L492.00,444.00 L492.50,444.00 L493.00,444.00 L493.50,444.00 L494.00,444.00 L494.50,444.00 L495.00,444.00 L495.50,444.00 L496.00,444.00 L496.50,444.00 L497.00,444.00 L497.50,444.00 L498.00,444.00 L498.50,444.00 L499.00,444.00 L499.50,444.00 L500.00,444.00 L500.50,444.00 L501.00,444.00 L501.50,444.00 L502.00,444.00 L502.50,444.00 L503.00,444.00 L503.50,444.00 L504.00,444.00 L504.50,444.00 L505.00,444.00 L505.50,444.00 L506.00,444.00 L506.50,444.00 L507.00,444.00 L507.50,444.00 L508.00,444.00 L508.50,444.00 L509.00,444.00 L509.50,444.00 L510.00,444.00 L510.50,444.00 L511.00,444.00 L511.50,444.00 L512.00,444.00 L512.50,444.00 L513.00,444.00 L513.50,444.00 L514.00,444.00 L514.50,444.00 L515.00,444.00 L515.50,444.00 L516.00,444.00 L516.50,444.00 L517.00,444.00 L517.50,444.00 L518.00,444.00 L518.50,444.00 L519.00,444.00 L519.50,444.00 L520.00,444.00 L520.50,444.00 L521.00,444.00 L521.50,444.00 L522.00,444.00 L522.50,444.00 L523.00,444.00 L523.50,444.00 L524.00,444.00 L524.50,444.00 L525.00,444.00 L525.50,444.00 L526.00,444.00 L526.50,444.00 L527.00,444.00 L527.50,444.00 L528.00,444.00 L528.50,444.00 L529.00,444.00 L529.50,444.00 L530.00,444.00 L530.50,444.00 L531.00,444.00 L531.50,444.00 L532.00,444.00 L532.50,444.00 L533.00,444.00 L533.50,444.00 L534.00,444.00 L534.50,444.00 L535.00,444.00 L535.50,444.00 L536.00,444.00 L536.50,444.00 L537.00,444.00 L537.50,444.00 L538.00,444.00 L538.50,444.00 L539.00,444.00 L539.50,444.00 L540.00,444.00 L540.50,444.00 L541.00,444.00 L541.50,444.00 L542.00,444.00 L542.50,444.00 L543.00,444.00 L543.50,444.00 L544.00,444.00 L544.50,444.00 L545.00,444.00 L545.50,444.00 L546.00,444.00 L546.50,444.00 L547.00,444.00 L547.50,444.00 L548.00,444.00 L548.50,444.00 L549.00,444.00 L549.50,444.00 L550.00,444.00 L550.50,444.00 L551.00,444.00 L551.50,444.00 L552.00,444.00 L552.50,444.00 L553.00,444.00 L553.50,444.00 L554.00,444.00 L554.50,444.00 L555.00,444.00 L555.50,444.00 L556.00,444.00 L556.50,444.00 L557.00,444.00 L557.50,444.00 L558.00,444.00" fill="none" stroke="#ff2626" stroke-width="2.1" stroke-linejoin="round" stroke-dasharray="7.3,3.5"/>
<path d="M130.00,444.00 L130.50,444.00 L131.00,444.00 L131.50,444.00 L132.00,444.00 L132.50,444.00 L133.00,444.00 L133.50,444.00 L134.00,444.00 L134.50,444.00 L135.00,444.00 L135.50,444.00 L136.00,444.00 L136.50,444.00 L137.00,444.00 L137.50,444.00 L138.00,444.00 L138.50,444.00 L139.00,444.00 L139.50,444.00 L140.00,444.00 L140.50,444.00 L141.00,444.00 L141.50,444.00 L142.00,444.00 L142.50,444.00 L143.00,444.00 L143.50,444.00 L144.00,444.00 L144.50,444.00 L145.00,444.00 L145.50,444.00 L146.00,444.00 L146.50,444.00 L147.00,444.00 L147.50,444.00 L148.00,444.00 L148.50,444.00 L149.00,444.00 L149.50,444.00 L150.00,444.00 L150.50,444.00 L151.00,444.00 L151.50,444.00 L152.00,444.00 L152.50,444.00 L153.00,444.00 L153.50,444.00 L154.00,444.00 L154.50,444.00 L155.00,444.00 L155.50,444.00 L156.00,444.00 L156.50,444.00 L157.00,444.00 L157.50,444.00 L158.00,444.00 L158.50,444.00 L159.00,444.00 L159.50,444.00 L160.00,444.00 L160.50,444.00 L161.00,444.00 L161.50,444.00 L162.00,444.00 L162.50,444.00 L163.00,444.00 L163.50,444.00 L164.00,444.00 L164.50,444.00 L165.00,444.00 L165.50,444.00 L166.00,444.00 L166.50,444.00 L167.00,444.00 L167.50,444.00 L168.00,444.00 L168.50,444.00 L169.00,444.00 L169.50,444.00 L170.00,444.00 L170.50,444.00 L171.00,444.00 L171.50,444.00 L172.00,444.00 L172.50,444.00 L173.00,444.00 L173.50,444.00 L174.00,444.00 L174.50,444.00 L175.00,444.00 L175.50,444.00 L176.00,444.00 L176.50,444.00 L177.00,444.00 L177.50,444.00 L178.00,444.00 L178.50,444.00 L179.00,444.00 L179.50,444.00 L180.00,444.00 L180.50,444.00 L181.00,444.00 L181.50,444.00 L182.00,444.00 L182.50,444.00 L183.00,444.00 L183.50,444.00 L184.00,444.00 L184.50,444.00 L185.00,444.00 L185.50,444.00 L186.00,444.00 L186.50,444.00 L187.00,444.00 L187.50,444.00 L188.00,444.00 L188.50,444.00 L189.00,444.00 L189.50,444.00 L190.00,444.00 L190.50,444.00 L191.00,444.00 L191.50,444.00 L192.00,444.00 L192.50,444.00 L193.00,444.00 L193.50,444.00 L194.00,444.00 L194.50,444.00 L195.00,444.00 L195.50,444.00 L196.00,444.00 L196.50,444.00 L197.00,444.00 L197.50,444.00 L198.00,444.00 L198.50,444.00 L199.00,444.00 L199.50,444.00 L200.00,444.00 L200.50,444.00 L201.00,444.00 L201.50,444.00 L202.00,444.00 L202.50,444.00 L203.00,444.00 L203.50,444.00 L204.00,444.00 L204.50,444.00 L205.00,444.00 L205.50,444.00 L206.00,444.00 L206.50,444.00 L207.00,444.00 L207.50,444.00 L208.00,444.00 L208.50,444.00 L209.00,444.00 L209.50,444.00 L210.00,444.00 L210.50,444.00 L211.00,444.00 L211.50,444.00 L212.00,444.00 L212.50,444.00 L213.00,444.00 L213.50,444.00 L214.00,444.00 L214.50,444.00 L215.00,444.00 L215.50,444.00 L216.00,444.00 L216.50,444.00 L217.00,444.00 L217.50,444.00 L218.00,444.00 L218.50,444.00 L219.00,444.00 L219.50,444.00 L220.00,444.00 L220.50,444.00 L221.00,444.00 L221.50,444.00 L222.00,444.00 L222.50,444.00 L223.00,444.00 L223.50,444.00 L224.00,444.00 L224.50,444.00 L225.00,443.99 L225.50,443.99 L226.00,443.99 L226.50,443.99 L227.00,443.99 L227.50,443.98 L228.00,443.98 L228.50,443.98 L229.00,443.97 L229.50,443.97 L230.00,443.96 L230.50,443.95 L231.00,443.95 L231.50,443.94 L232.00,443.93 L232.50,443.93 L233.00,443.92 L233.50,443.91 L234.00,443.90 L234.50,443.90 L235.00,443.89 L235.50,443.88 L236.00,443.88 L236.50,443.87 L237.00,443.87 L237.50,443.87 L238.00,443.86 L238.50,443.86 L239.00,443.86 L239.50,443.87 L240.00,443.87 L240.50,443.87 L241.00,443.87 L241.50,443.87 L242.00,443.87 L242.50,443.87 L243.00,443.87 L243.50,443.86 L244.00,443.84 L244.50,443.82 L245.00,443.79 L245.50,443.75 L246.00,443.69 L246.50,443.62 L247.00,443.52 L247.50,443.40 L248.00,443.25 L248.50,443.06 L249.00,442.82 L249.50,442.54 L250.00,442.20 L250.50,441.80 L251.00,441.32 L251.50,440.77 L252.00,440.12 L252.50,439.38 L253.00,438.53 L253.50,437.58 L254.00,436.50 L254.50,435.31 L255.00,433.98 L255.50,432.53 L256.00,430.95 L256.50,429.25 L257.00,427.42 L257.50,425.47 L258.00,423.42 L258.50,421.26 L259.00,419.03 L259.50,416.72 L260.00,414.35 L260.50,411.96 L261.00,409.55 L261.50,407.14 L262.00,404.77 L262.50,402.45 L263.00,400.21 L263.50,398.07 L264.00,396.05 L264.50,394.19 L265.00,392.49 L265.50,390.98 L266.00,389.67 L266.50,388.59 L267.00,387.74 L267.50,387.14 L268.00,386.79 L268.50,386.70 L269.00,386.86 L269.50,387.29 L270.00,387.96 L270.50,388.87 L271.00,390.01 L271.50,391.36 L272.00,392.91 L272.50,394.63 L273.00,396.51 L273.50,398.52 L274.00,400.64 L274.50,402.83 L275.00,405.08 L275.50,407.36 L276.00,409.63 L276.50,411.88 L277.00,414.09 L277.50,416.22 L278.00,418.26 L278.50,420.19 L279.00,421.98 L279.50,423.64 L280.00,425.13 L280.50,426.46 L281.00,427.61 L281.50,428.57 L282.00,429.34 L282.50,429.92 L283.00,430.29 L283.50,430.47 L284.00,430.45 L284.50,430.22 L285.00,429.81 L285.50,429.19 L286.00,428.38 L286.50,427.39 L287.00,426.21 L287.50,424.85 L288.00,423.33 L288.50,421.64 L289.00,419.79 L289.50,417.81 L290.00,415.69 L290.50,413.46 L291.00,411.13 L291.50,408.73 L292.00,406.27 L292.50,403.78 L293.00,401.28 L293.50,398.81 L294.00,396.40 L294.50,394.08 L295.00,391.87 L295.50,389.82 L296.00,387.96 L296.50,386.32 L297.00,384.92 L297.50,383.80 L298.00,382.98 L298.50,382.47 L299.00,382.30 L299.50,382.46 L300.00,382.97 L300.50,383.82 L301.00,385.00 L301.50,386.49 L302.00,388.28 L302.50,390.34 L303.00,392.64 L303.50,395.15 L304.00,397.82 L304.50,400.63 L305.00,403.53 L305.50,406.48 L306.00,409.45 L306.50,412.39 L307.00,415.28 L307.50,418.08 L308.00,420.76 L308.50,423.31 L309.00,425.71 L309.50,427.93 L310.00,429.98 L310.50,431.85 L311.00,433.53 L311.50,435.04 L312.00,436.36 L312.50,437.51 L313.00,438.51 L313.50,439.36 L314.00,440.07 L314.50,440.66 L315.00,441.13 L315.50,441.51 L316.00,441.81 L316.50,442.03 L317.00,442.20 L317.50,442.31 L318.00,442.38 L318.50,442.42 L319.00,442.44 L319.50,442.45 L320.00,442.44 L320.50,442.43 L321.00,442.42 L321.50,442.42 L322.00,442.42 L322.50,442.43 L323.00,442.45 L323.50,442.48 L324.00,442.52 L324.50,442.58 L325.00,442.64 L325.50,442.71 L326.00,442.79 L326.50,442.87 L327.00,442.96 L327.50,443.05 L328.00,443.14 L328.50,443.23 L329.00,443.31 L329.50,443.39 L330.00,443.47 L330.50,443.54 L331.00,443.61 L331.50,443.67 L332.00,443.72 L332.50,443.77 L333.00,443.81 L333.50,443.84 L334.00,443.87 L334.50,443.90 L335.00,443.92 L335.50,443.93 L336.00,443.95 L336.50,443.96 L337.00,443.97 L337.50,443.97 L338.00,443.98 L338.50,443.98 L339.00,443.98 L339.50,443.98 L340.00,443.98 L340.50,443.98 L341.00,443.98 L341.50,443.97 L342.00,443.96 L342.50,443.95 L343.00,443.94 L343.50,443.92 L344.00,443.90 L344.50,443.87 L345.00,443.84 L345.50,443.80 L346.00,443.76 L346.50,443.70 L347.00,443.64 L347.50,443.56 L348.00,443.48 L348.50,443.38 L349.00,443.27 L349.50,443.14 L350.00,443.00 L350.50,442.84 L351.00,442.67 L351.50,442.48 L352.00,442.27 L352.50,442.04 L353.00,441.80 L353.50,441.53 L354.00,441.25 L354.50,440.95 L355.00,440.63 L355.50,440.30 L356.00,439.94 L356.50,439.56 L357.00,439.16 L357.50,438.73 L358.00,438.28 L358.50,437.80 L359.00,437.29 L359.50,436.75 L360.00,436.17 L360.50,435.55 L361.00,434.90 L361.50,434.20 L362.00,433.45 L362.50,432.66 L363.00,431.82 L363.50,430.93 L364.00,429.99 L364.50,428.99 L365.00,427.95 L365.50,426.86 L366.00,425.73 L366.50,424.56 L367.00,423.35 L367.50,422.11 L368.00,420.85 L368.50,419.57 L369.00,418.27 L369.50,416.97 L370.00,415.68 L370.50,414.39 L371.00,413.11 L371.50,411.86 L372.00,410.64 L372.50,409.45 L373.00,408.30 L373.50,407.20 L374.00,406.14 L374.50,405.14 L375.00,404.19 L375.50,403.30 L376.00,402.47 L376.50,401.71 L377.00,401.01 L377.50,400.38 L378.00,399.82 L378.50,399.34 L379.00,398.93 L379.50,398.61 L380.00,398.37 L380.50,398.22 L381.00,398.16 L381.50,398.20 L382.00,398.35 L382.50,398.60 L383.00,398.97 L383.50,399.45 L384.00,400.05 L384.50,400.77 L385.00,401.61 L385.50,402.57 L386.00,403.64 L386.50,404.84 L387.00,406.13 L387.50,407.54 L388.00,409.03 L388.50,410.61 L389.00,412.25 L389.50,413.96 L390.00,415.70 L390.50,417.48 L391.00,419.27 L391.50,421.06 L392.00,422.82 L392.50,424.56 L393.00,426.25 L393.50,427.88 L394.00,429.44 L394.50,430.91 L395.00,432.30 L395.50,433.59 L396.00,434.77 L396.50,435.86 L397.00,436.83 L397.50,437.70 L398.00,438.47 L398.50,439.13 L399.00,439.70 L399.50,440.18 L400.00,440.57 L400.50,440.89 L401.00,441.13 L401.50,441.32 L402.00,441.45 L402.50,441.54 L403.00,441.58 L403.50,441.60 L404.00,441.59 L404.50,441.56 L405.00,441.52 L405.50,441.46 L406.00,441.40 L406.50,441.34 L407.00,441.28 L407.50,441.22 L408.00,441.16 L408.50,441.10 L409.00,441.04 L409.50,440.97 L410.00,440.90 L410.50,440.83 L411.00,440.74 L411.50,440.64 L412.00,440.52 L412.50,440.39 L413.00,440.22 L413.50,440.03 L414.00,439.82 L414.50,439.57 L415.00,439.28 L415.50,438.96 L416.00,438.60 L416.50,438.20 L417.00,437.77 L417.50,437.30 L418.00,436.79 L418.50,436.25 L419.00,435.67 L419.50,435.07 L420.00,434.43 L420.50,433.77 L421.00,433.08 L421.50,432.38 L422.00,431.66 L422.50,430.92 L423.00,430.17 L423.50,429.41 L424.00,428.65 L424.50,427.88 L425.00,427.11 L425.50,426.34 L426.00,425.56 L426.50,424.80 L427.00,424.03 L427.50,423.27 L428.00,422.51 L428.50,421.75 L429.00,421.00 L429.50,420.25 L430.00,419.50 L430.50,418.75 L431.00,418.01 L431.50,417.27 L432.00,416.52 L432.50,415.78 L433.00,415.05 L433.50,414.31 L434.00,413.58 L434.50,412.85 L435.00,412.14 L435.50,411.43 L436.00,410.74 L436.50,410.07 L437.00,409.42 L437.50,408.80 L438.00,408.22 L438.50,407.67 L439.00,407.16 L439.50,406.70 L440.00,406.30 L440.50,405.95 L441.00,405.66 L441.50,405.44 L442.00,405.28 L442.50,405.20 L443.00,405.19 L443.50,405.24 L444.00,405.37 L444.50,405.57 L445.00,405.84 L445.50,406.17 L446.00,406.56 L446.50,407.00 L447.00,407.49 L447.50,408.03 L448.00,408.61 L448.50,409.21 L449.00,409.84 L449.50,410.48 L450.00,411.14 L450.50,411.80 L451.00,412.46 L451.50,413.11 L452.00,413.75 L452.50,414.37 L453.00,414.98 L453.50,415.56 L454.00,416.12 L454.50,416.66 L455.00,417.17 L455.50,417.66 L456.00,418.13 L456.50,418.58 L457.00,419.01 L457.50,419.42 L458.00,419.82 L458.50,420.20 L459.00,420.58 L459.50,420.95 L460.00,421.32 L460.50,421.69 L461.00,422.05 L461.50,422.42 L462.00,422.78 L462.50,423.15 L463.00,423.52 L463.50,423.89 L464.00,424.26 L464.50,424.63 L465.00,425.00 L465.50,425.36 L466.00,425.71 L466.50,426.05 L467.00,426.37 L467.50,426.68 L468.00,426.97 L468.50,427.24 L469.00,427.49 L469.50,427.72 L470.00,427.92 L470.50,428.09 L471.00,428.24 L471.50,428.36 L472.00,428.46 L472.50,428.54 L473.00,428.59 L473.50,428.63 L474.00,428.65 L474.50,428.66 L475.00,428.66 L475.50,428.65 L476.00,428.64 L476.50,428.64 L477.00,428.64 L477.50,428.64 L478.00,428.66 L478.50,428.70 L479.00,428.75 L479.50,428.82 L480.00,428.91 L480.50,429.02 L481.00,429.15 L481.50,429.30 L482.00,429.47 L482.50,429.66 L483.00,429.87 L483.50,430.09 L484.00,430.32 L484.50,430.56 L485.00,430.80 L485.50,431.04 L486.00,431.28 L486.50,431.50 L487.00,431.72 L487.50,431.91 L488.00,432.09 L488.50,432.23 L489.00,432.35 L489.50,432.44 L490.00,432.50 L490.50,432.52 L491.00,432.51 L491.50,432.45 L492.00,432.37 L492.50,432.24 L493.00,432.09 L493.50,431.90 L494.00,431.68 L494.50,431.43 L495.00,431.17 L495.50,430.88 L496.00,430.57 L496.50,430.26 L497.00,429.94 L497.50,429.61 L498.00,429.28 L498.50,428.96 L499.00,428.65 L499.50,428.34 L500.00,428.05 L500.50,427.78 L501.00,427.52 L501.50,427.29 L502.00,427.07 L502.50,426.87 L503.00,426.69 L503.50,426.53 L504.00,426.39 L504.50,426.26 L505.00,426.15 L505.50,426.05 L506.00,425.96 L506.50,425.87 L507.00,425.79 L507.50,425.71 L508.00,425.63 L508.50,425.55 L509.00,425.46 L509.50,425.37 L510.00,425.27 L510.50,425.16 L511.00,425.05 L511.50,424.92 L512.00,424.78 L512.50,424.64 L513.00,424.48 L513.50,424.32 L514.00,424.16 L514.50,423.99 L515.00,423.82 L515.50,423.65 L516.00,423.48 L516.50,423.26 L517.00,422.99 L517.50,422.70 L518.00,422.42 L518.50,422.18 L519.00,421.99 L519.50,421.86 L520.00,421.78 L520.50,421.76 L521.00,421.79 L521.50,421.85 L522.00,421.92 L522.50,421.99 L523.00,422.05 L523.50,422.09 L524.00,422.09 L524.50,422.07 L525.00,422.02 L525.50,421.95 L526.00,421.86 L526.50,421.76 L527.00,421.64 L527.50,421.51 L528.00,421.37 L528.50,421.22 L529.00,421.06 L529.50,420.89 L530.00,420.70 L530.50,420.50 L531.00,420.27 L531.50,420.03 L532.00,419.78 L532.50,419.51 L533.00,419.23 L533.50,418.96 L534.00,418.68 L534.50,418.42 L535.00,418.18 L535.50,417.98 L536.00,417.81 L536.50,417.68 L537.00,417.61 L537.50,417.59 L538.00,417.64 L538.50,417.74 L539.00,417.91 L539.50,418.13 L540.00,418.41 L540.50,418.75 L541.00,419.14 L541.50,419.58 L542.00,420.07 L542.50,420.61 L543.00,421.19 L543.50,421.82 L544.00,422.49 L544.50,423.19 L545.00,423.92 L545.50,424.69 L546.00,425.48 L546.50,426.29 L547.00,427.11 L547.50,427.94 L548.00,428.77 L548.50,429.59 L549.00,430.40 L549.50,431.20 L550.00,431.97 L550.50,432.73 L551.00,433.46 L551.50,434.18 L552.00,434.87 L552.50,435.53 L553.00,436.18 L553.50,436.81 L554.00,437.41 L554.50,438.00 L555.00,438.56 L555.50,439.10 L556.00,439.61 L556.50,440.09 L557.00,440.54 L557.50,440.95 L558.00,441.32" fill="none" stroke="#269326" stroke-width="2.1" stroke-linejoin="round"/>
<path d="M130.00,444.00 L130.50,444.00 L131.00,444.00 L131.50,444.00 L132.00,444.00 L132.50,444.00 L133.00,444.00 L133.50,444.00 L134.00,444.00 L134.50,444.00 L135.00,444.00 L135.50,444.00 L136.00,444.00 L136.50,444.00 L137.00,444.00 L137.50,444.00 L138.00,444.00 L138.50,444.00 L139.00,444.00 L139.50,444.00 L140.00,444.00 L140.50,444.00 L141.00,444.00 L141.50,444.00 L142.00,444.00 L142.50,444.00 L143.00,444.00 L143.50,444.00 L144.00,444.00 L144.50,444.00 L145.00,444.00 L145.50,444.00 L146.00,444.00 L146.50,444.00 L147.00,444.00 L147.50,444.00 L148.00,444.00 L148.50,444.00 L149.00,444.00 L149.50,444.00 L150.00,444.00 L150.50,444.00 L151.00,444.00 L151.50,444.00 L152.00,444.00 L152.50,444.00 L153.00,444.00 L153.50,444.00 L154.00,444.00 L154.50,444.00 L155.00,443.99 L155.50,443.99 L156.00,443.99 L156.50,443.99 L157.00,443.98 L157.50,443.98 L158.00,443.97 L158.50,443.97 L159.00,443.96 L159.50,443.95 L160.00,443.93 L160.50,443.92 L161.00,443.89 L161.50,443.87 L162.00,443.84 L162.50,443.81 L163.00,443.77 L163.50,443.72 L164.00,443.66 L164.50,443.59 L165.00,443.51 L165.50,443.41 L166.00,443.30 L166.50,443.17 L167.00,443.01 L167.50,442.83 L168.00,442.61 L168.50,442.35 L169.00,442.05 L169.50,441.70 L170.00,441.29 L170.50,440.82 L171.00,440.27 L171.50,439.64 L172.00,438.91 L172.50,438.08 L173.00,437.15 L173.50,436.09 L174.00,434.91 L174.50,433.59 L175.00,432.13 L175.50,430.53 L176.00,428.78 L176.50,426.88 L177.00,424.83 L177.50,422.64 L178.00,420.32 L178.50,417.87 L179.00,415.31 L179.50,412.65 L180.00,409.92 L180.50,407.12 L181.00,404.29 L181.50,401.45 L182.00,398.63 L182.50,395.86 L183.00,393.17 L183.50,390.58 L184.00,388.13 L184.50,385.86 L185.00,383.78 L185.50,381.92 L186.00,380.31 L186.50,378.98 L187.00,377.94 L187.50,377.20 L188.00,376.79 L188.50,376.70 L189.00,376.94 L189.50,377.50 L190.00,378.39 L190.50,379.59 L191.00,381.09 L191.50,382.86 L192.00,384.89 L192.50,387.15 L193.00,389.61 L193.50,392.23 L194.00,395.00 L194.50,397.87 L195.00,400.82 L195.50,403.80 L196.00,406.79 L196.50,409.75 L197.00,412.66 L197.50,415.50 L198.00,418.23 L198.50,420.84 L199.00,423.31 L199.50,425.63 L200.00,427.80 L200.50,429.79 L201.00,431.62 L201.50,433.28 L202.00,434.77 L202.50,436.10 L203.00,437.28 L203.50,438.31 L204.00,439.21 L204.50,439.97 L205.00,440.63 L205.50,441.18 L206.00,441.64 L206.50,442.02 L207.00,442.32 L207.50,442.57 L208.00,442.77 L208.50,442.92 L209.00,443.03 L209.50,443.12 L210.00,443.18 L210.50,443.23 L211.00,443.26 L211.50,443.28 L212.00,443.30 L212.50,443.31 L213.00,443.33 L213.50,443.34 L214.00,443.35 L214.50,443.37 L215.00,443.39 L215.50,443.41 L216.00,443.44 L216.50,443.47 L217.00,443.50 L217.50,443.53 L218.00,443.56 L218.50,443.59 L219.00,443.62 L219.50,443.65 L220.00,443.68 L220.50,443.71 L221.00,443.72 L221.50,443.74 L222.00,443.74 L222.50,443.74 L223.00,443.72 L223.50,443.69 L224.00,443.64 L224.50,443.57 L225.00,443.48 L225.50,443.35 L226.00,443.19 L226.50,442.99 L227.00,442.74 L227.50,442.44 L228.00,442.07 L228.50,441.63 L229.00,441.10 L229.50,440.48 L230.00,439.75 L230.50,438.91 L231.00,437.95 L231.50,436.86 L232.00,435.63 L232.50,434.25 L233.00,432.73 L233.50,431.06 L234.00,429.24 L234.50,427.28 L235.00,425.18 L235.50,422.95 L236.00,420.61 L236.50,418.18 L237.00,415.66 L237.50,413.10 L238.00,410.50 L238.50,407.90 L239.00,405.32 L239.50,402.80 L240.00,400.36 L240.50,398.04 L241.00,395.85 L241.50,393.84 L242.00,392.02 L242.50,390.41 L243.00,389.04 L243.50,387.93 L244.00,387.08 L244.50,386.51 L245.00,386.22 L245.50,386.22 L246.00,386.50 L246.50,387.06 L247.00,387.88 L247.50,388.96 L248.00,390.28 L248.50,391.82 L249.00,393.57 L249.50,395.49 L250.00,397.56 L250.50,399.77 L251.00,402.08 L251.50,404.46 L252.00,406.90 L252.50,409.37 L253.00,411.84 L253.50,414.28 L254.00,416.69 L254.50,419.04 L255.00,421.30 L255.50,423.48 L256.00,425.55 L256.50,427.50 L257.00,429.33 L257.50,431.02 L258.00,432.59 L258.50,434.01 L259.00,435.30 L259.50,436.45 L260.00,437.48 L260.50,438.37 L261.00,439.14 L261.50,439.78 L262.00,440.32 L262.50,440.74 L263.00,441.06 L263.50,441.28 L264.00,441.40 L264.50,441.42 L265.00,441.36 L265.50,441.20 L266.00,440.96 L266.50,440.62 L267.00,440.20 L267.50,439.69 L268.00,439.08 L268.50,438.39 L269.00,437.60 L269.50,436.72 L270.00,435.74 L270.50,434.67 L271.00,433.50 L271.50,432.24 L272.00,430.88 L272.50,429.43 L273.00,427.89 L273.50,426.27 L274.00,424.56 L274.50,422.78 L275.00,420.93 L275.50,419.03 L276.00,417.07 L276.50,415.07 L277.00,413.04 L277.50,410.99 L278.00,408.94 L278.50,406.90 L279.00,404.88 L279.50,402.90 L280.00,400.98 L280.50,399.13 L281.00,397.36 L281.50,395.70 L282.00,394.15 L282.50,392.74 L283.00,391.48 L283.50,390.38 L284.00,389.45 L284.50,388.71 L285.00,388.17 L285.50,387.83 L286.00,387.70 L286.50,387.78 L287.00,388.07 L287.50,388.57 L288.00,389.28 L288.50,390.20 L289.00,391.30 L289.50,392.59 L290.00,394.04 L290.50,395.66 L291.00,397.41 L291.50,399.28 L292.00,401.25 L292.50,403.31 L293.00,405.43 L293.50,407.59 L294.00,409.78 L294.50,411.97 L295.00,414.15 L295.50,416.30 L296.00,418.40 L296.50,420.45 L297.00,422.41 L297.50,424.30 L298.00,426.09 L298.50,427.79 L299.00,429.37 L299.50,430.86 L300.00,432.23 L300.50,433.49 L301.00,434.64 L301.50,435.69 L302.00,436.64 L302.50,437.49 L303.00,438.25 L303.50,438.93 L304.00,439.53 L304.50,440.06 L305.00,440.53 L305.50,440.93 L306.00,441.29 L306.50,441.60 L307.00,441.87 L307.50,442.11 L308.00,442.32 L308.50,442.50 L309.00,442.66 L309.50,442.81 L310.00,442.93 L310.50,443.05 L311.00,443.15 L311.50,443.24 L312.00,443.32 L312.50,443.40 L313.00,443.47 L313.50,443.53 L314.00,443.58 L314.50,443.63 L315.00,443.67 L315.50,443.71 L316.00,443.74 L316.50,443.76 L317.00,443.79 L317.50,443.81 L318.00,443.82 L318.50,443.83 L319.00,443.84 L319.50,443.85 L320.00,443.85 L320.50,443.85 L321.00,443.86 L321.50,443.86 L322.00,443.86 L322.50,443.86 L323.00,443.86 L323.50,443.86 L324.00,443.86 L324.50,443.87 L325.00,443.87 L325.50,443.87 L326.00,443.88 L326.50,443.89 L327.00,443.89 L327.50,443.90 L328.00,443.90 L328.50,443.91 L329.00,443.92 L329.50,443.92 L330.00,443.92 L330.50,443.93 L331.00,443.93 L331.50,443.93 L332.00,443.92 L332.50,443.92 L333.00,443.91 L333.50,443.89 L334.00,443.88 L334.50,443.85 L335.00,443.83 L335.50,443.79 L336.00,443.76 L336.50,443.71 L337.00,443.66 L337.50,443.60 L338.00,443.54 L338.50,443.46 L339.00,443.38 L339.50,443.29 L340.00,443.20 L340.50,443.10 L341.00,442.99 L341.50,442.87 L342.00,442.76 L342.50,442.63 L343.00,442.51 L343.50,442.38 L344.00,442.26 L344.50,442.14 L345.00,442.02 L345.50,441.91 L346.00,441.80 L346.50,441.70 L347.00,441.61 L347.50,441.54 L348.00,441.47 L348.50,441.42 L349.00,441.38 L349.50,441.36 L350.00,441.35 L350.50,441.36 L351.00,441.38 L351.50,441.41 L352.00,441.46 L352.50,441.53 L353.00,441.60 L353.50,441.69 L354.00,441.78 L354.50,441.89 L355.00,442.00 L355.50,442.11 L356.00,442.23 L356.50,442.36 L357.00,442.48 L357.50,442.60 L358.00,442.72 L358.50,442.84 L359.00,442.95 L359.50,443.06 L360.00,443.16 L360.50,443.26 L361.00,443.35 L361.50,443.43 L362.00,443.51 L362.50,443.58 L363.00,443.64 L363.50,443.69 L364.00,443.74 L364.50,443.78 L365.00,443.82 L365.50,443.85 L366.00,443.88 L366.50,443.90 L367.00,443.92 L367.50,443.94 L368.00,443.95 L368.50,443.96 L369.00,443.97 L369.50,443.98 L370.00,443.98 L370.50,443.99 L371.00,443.99 L371.50,443.99 L372.00,443.99 L372.50,444.00 L373.00,444.00 L373.50,444.00 L374.00,444.00 L374.50,444.00 L375.00,444.00 L375.50,444.00 L376.00,444.00 L376.50,444.00 L377.00,444.00 L377.50,444.00 L378.00,444.00 L378.50,444.00 L379.00,444.00 L379.50,444.00 L380.00,444.00 L380.50,444.00 L381.00,444.00 L381.50,444.00 L382.00,444.00 L382.50,444.00 L383.00,444.00 L383.50,444.00 L384.00,444.00 L384.50,444.00 L385.00,444.00 L385.50,444.00 L386.00,444.00 L386.50,444.00 L387.00,444.00 L387.50,444.00 L388.00,444.00 L388.50,444.00 L389.00,444.00 L389.50,444.00 L390.00,444.00 L390.50,444.00 L391.00,444.00 L391.50,444.00 L392.00,444.00 L392.50,444.00 L393.00,444.00 L393.50,444.00 L394.00,444.00 L394.50,444.00 L395.00,444.00 L395.50,444.00 L396.00,444.00 L396.50,444.00 L397.00,444.00 L397.50,444.00 L398.00,444.00 L398.50,444.00 L399.00,444.00 L399.50,444.00 L400.00,444.00 L400.50,444.00 L401.00,444.00 L401.50,444.00 L402.00,444.00 L402.50,444.00 L403.00,444.00 L403.50,444.00 L404.00,444.00 L404.50,444.00 L405.00,444.00 L405.50,444.00 L406.00,444.00 L406.50,444.00 L407.00,444.00 L407.50,444.00 L408.00,444.00 L408.50,444.00 L409.00,444.00 L409.50,444.00 L410.00,444.00 L410.50,444.00 L411.00,444.00 L411.50,444.00 L412.00,444.00 L412.50,444.00 L413.00,444.00 L413.50,444.00 L414.00,444.00 L414.50,444.00 L415.00,444.00 L415.50,444.00 L416.00,444.00 L416.50,444.00 L417.00,444.00 L417.50,444.00 L418.00,444.00 L418.50,444.00 L419.00,444.00 L419.50,444.00 L420.00,444.00 L420.50,444.00 L421.00,444.00 L421.50,444.00 L422.00,444.00 L422.50,444.00 L423.00,444.00 L423.50,444.00 L424.00,444.00 L424.50,444.00 L425.00,444.00 L425.50,444.00 L426.00,444.00 L426.50,444.00 L427.00,444.00 L427.50,444.00 L428.00,444.00 L428.50,444.00 L429.00,444.00 L429.50,444.00 L430.00,444.00 L430.50,444.00 L431.00,444.00 L431.50,444.00 L432.00,444.00 L432.50,444.00 L433.00,444.00 L433.50,444.00 L434.00,444.00 L434.50,444.00 L435.00,444.00 L435.50,444.00 L436.00,444.00 L436.50,444.00 L437.00,444.00 L437.50,444.00 L438.00,444.00 L438.50,444.00 L439.00,444.00 L439.50,444.00 L440.00,444.00 L440.50,444.00 L441.00,444.00 L441.50,444.00 L442.00,444.00 L442.50,444.00 L443.00,444.00 L443.50,444.00 L444.00,444.00 L444.50,444.00 L445.00,444.00 L445.50,444.00 L446.00,444.00 L446.50,444.00 L447.00,444.00 L447.50,444.00 L448.00,444.00 L448.50,444.00 L449.00,444.00 L449.50,444.00 L450.00,444.00 L450.50,444.00 L451.00,444.00 L451.50,444.00 L452.00,444.00 L452.50,444.00 L453.00,444.00 L453.50,444.00 L454.00,444.00 L454.50,444.00 L455.00,444.00 L455.50,444.00 L456.00,444.00 L456.50,444.00 L457.00,444.00 L457.50,444.00 L458.00,444.00 L458.50,444.00 L459.00,444.00 L459.50,444.00 L460.00,444.00 L460.50,444.00 L461.00,444.00 L461.50,444.00 L462.00,444.00 L462.50,444.00 L463.00,444.00 L463.50,444.00 L464.00,444.00 L464.50,444.00 L465.00,444.00 L465.50,444.00 L466.00,444.00 L466.50,444.00 L467.00,444.00 L467.50,444.00 L468.00,444.00 L468.50,444.00 L469.00,444.00 L469.50,444.00 L470.00,444.00 L470.50,444.00 L471.00,444.00 L471.50,444.00 L472.00,444.00 L472.50,444.00 L473.00,444.00 L473.50,444.00 L474.00,444.00 L474.50,444.00 L475.00,444.00 L475.50,444.00 L476.00,444.00 L476.50,444.00 L477.00,444.00 L477.50,444.00 L478.00,444.00 L478.50,444.00 L479.00,444.00 L479.50,444.00 L480.00,444.00 L480.50,444.00 L481.00,444.00 L481.50,444.00 L482.00,444.00 L482.50,444.00 L483.00,444.00 L483.50,444.00 L484.00,444.00 L484.50,444.00 L485.00,444.00 L485.50,444.00 L486.00,444.00 L486.50,444.00 L487.00,444.00 L487.50,444.00 L488.00,444.00 L488.50,444.00 L489.00,444.00 L489.50,444.00 L490.00,444.00 L490.50,444.00 L491.00,444.00 L491.50,444.00 L492.00,444.00 L492.50,444.00 L493.00,444.00 L493.50,444.00 L494.00,444.00 L494.50,444.00 L495.00,444.00 L495.50,444.00 L496.00,444.00 L496.50,444.00 L497.00,444.00 L497.50,444.00 L498.00,444.00 L498.50,444.00 L499.00,444.00 L499.50,444.00 L500.00,444.00 L500.50,444.00 L501.00,444.00 L501.50,444.00 L502.00,444.00 L502.50,444.00 L503.00,444.00 L503.50,444.00 L504.00,444.00 L504.50,444.00 L505.00,444.00 L505.50,444.00 L506.00,444.00 L506.50,444.00 L507.00,444.00 L507.50,444.00 L508.00,444.00 L508.50,444.00 L509.00,444.00 L509.50,444.00 L510.00,444.00 L510.50,444.00 L511.00,444.00 L511.50,444.00 L512.00,444.00 L512.50,444.00 L513.00,444.00 L513.50,444.00 L514.00,444.00 L514.50,444.00 L515.00,444.00 L515.50,444.00 L516.00,444.00 L516.50,444.00 L517.00,444.00 L517.50,444.00 L518.00,444.00 L518.50,444.00 L519.00,444.00 L519.50,444.00 L520.00,444.00 L520.50,444.00 L521.00,444.00 L521.50,444.00 L522.00,444.00 L522.50,444.00 L523.00,444.00 L523.50,444.00 L524.00,444.00 L524.50,444.00 L525.00,444.00 L525.50,444.00 L526.00,444.00 L526.50,444.00 L527.00,444.00 L527.50,444.00 L528.00,444.00 L528.50,444.00 L529.00,444.00 L529.50,444.00 L530.00,444.00 L530.50,444.00 L531.00,444.00 L531.50,444.00 L532.00,444.00 L532.50,444.00 L533.00,444.00 L533.50,444.00 L534.00,444.00 L534.50,444.00 L535.00,444.00 L535.50,444.00 L536.00,444.00 L536.50,444.00 L537.00,444.00 L537.50,444.00 L538.00,444.00 L538.50,444.00 L539.00,444.00 L539.50,444.00 L540.00,444.00 L540.50,444.00 L541.00,444.00 L541.50,444.00 L542.00,444.00 L542.50,444.00 L543.00,444.00 L543.50,444.00 L544.00,444.00 L544.50,444.00 L545.00,444.00 L545.50,444.00 L546.00,444.00 L546.50,444.00 L547.00,444.00 L547.50,444.00 L548.00,444.00 L548.50,444.00 L549.00,444.00 L549.50,444.00 L550.00,444.00 L550.50,444.00 L551.00,444.00 L551.50,444.00 L552.00,444.00 L552.50,444.00 L553.00,444.00 L553.50,444.00 L554.00,444.00 L554.50,444.00 L555.00,444.00 L555.50,444.00 L556.00,444.00 L556.50,444.00 L557.00,444.00 L557.50,444.00 L558.00,444.00" fill="none" stroke="#ff26ff" stroke-width="2.1" stroke-linejoin="round"/>
<path d="M130.00,444.00 L130.50,444.00 L131.00,444.00 L131.50,444.00 L132.00,444.00 L132.50,444.00 L133.00,444.00 L133.50,444.00 L134.00,444.00 L134.50,444.00 L135.00,444.00 L135.50,444.00 L136.00,444.00 L136.50,444.00 L137.00,444.00 L137.50,444.00 L138.00,444.00 L138.50,444.00 L139.00,444.00 L139.50,444.00 L140.00,444.00 L140.50,444.00 L141.00,444.00 L141.50,444.00 L142.00,444.00 L142.50,444.00 L143.00,444.00 L143.50,444.00 L144.00,444.00 L144.50,444.00 L145.00,444.00 L145.50,444.00 L146.00,444.00 L146.50,444.00 L147.00,444.00 L147.50,444.00 L148.00,444.00 L148.50,444.00 L149.00,444.00 L149.50,444.00 L150.00,444.00 L150.50,444.00 L151.00,444.00 L151.50,444.00 L152.00,444.00 L152.50,444.00 L153.00,444.00 L153.50,444.00 L154.00,444.00 L154.50,444.00 L155.00,444.00 L155.50,444.00 L156.00,444.00 L156.50,444.00 L157.00,444.00 L157.50,444.00 L158.00,444.00 L158.50,444.00 L159.00,444.00 L159.50,444.00 L160.00,444.00 L160.50,444.00 L161.00,444.00 L161.50,444.00 L162.00,444.00 L162.50,444.00 L163.00,444.00 L163.50,444.00 L164.00,444.00 L164.50,444.00 L165.00,444.00 L165.50,444.00 L166.00,444.00 L166.50,444.00 L167.00,444.00 L167.50,444.00 L168.00,444.00 L168.50,444.00 L169.00,444.00 L169.50,444.00 L170.00,444.00 L170.50,444.00 L171.00,444.00 L171.50,444.00 L172.00,444.00 L172.50,444.00 L173.00,444.00 L173.50,444.00 L174.00,444.00 L174.50,444.00 L175.00,444.00 L175.50,444.00 L176.00,444.00 L176.50,444.00 L177.00,444.00 L177.50,444.00 L178.00,444.00 L178.50,444.00 L179.00,444.00 L179.50,444.00 L180.00,444.00 L180.50,444.00 L181.00,444.00 L181.50,444.00 L182.00,444.00 L182.50,444.00 L183.00,444.00 L183.50,444.00 L184.00,444.00 L184.50,444.00 L185.00,444.00 L185.50,444.00 L186.00,444.00 L186.50,444.00 L187.00,444.00 L187.50,444.00 L188.00,444.00 L188.50,444.00 L189.00,444.00 L189.50,444.00 L190.00,444.00 L190.50,444.00 L191.00,444.00 L191.50,444.00 L192.00,444.00 L192.50,444.00 L193.00,444.00 L193.50,444.00 L194.00,444.00 L194.50,444.00 L195.00,444.00 L195.50,444.00 L196.00,444.00 L196.50,444.00 L197.00,444.00 L197.50,444.00 L198.00,444.00 L198.50,444.00 L199.00,444.00 L199.50,444.00 L200.00,444.00 L200.50,444.00 L201.00,444.00 L201.50,444.00 L202.00,444.00 L202.50,444.00 L203.00,444.00 L203.50,444.00 L204.00,444.00 L204.50,444.00 L205.00,444.00 L205.50,444.00 L206.00,444.00 L206.50,444.00 L207.00,444.00 L207.50,444.00 L208.00,444.00 L208.50,444.00 L209.00,444.00 L209.50,444.00 L210.00,444.00 L210.50,444.00 L211.00,444.00 L211.50,444.00 L212.00,444.00 L212.50,444.00 L213.00,444.00 L213.50,444.00 L214.00,444.00 L214.50,444.00 L215.00,444.00 L215.50,444.00 L216.00,444.00 L216.50,444.00 L217.00,444.00 L217.50,444.00 L218.00,444.00 L218.50,444.00 L219.00,444.00 L219.50,444.00 L220.00,444.00 L220.50,444.00 L221.00,444.00 L221.50,444.00 L222.00,444.00 L222.50,444.00 L223.00,444.00 L223.50,444.00 L224.00,444.00 L224.50,444.00 L225.00,444.00 L225.50,444.00 L226.00,444.00 L226.50,444.00 L227.00,444.00 L227.50,444.00 L228.00,444.00 L228.50,444.00 L229.00,444.00 L229.50,444.00 L230.00,444.00 L230.50,444.00 L231.00,444.00 L231.50,444.00 L232.00,444.00 L232.50,444.00 L233.00,444.00 L233.50,444.00 L234.00,444.00 L234.50,444.00 L235.00,444.00 L235.50,444.00 L236.00,444.00 L236.50,444.00 L237.00,444.00 L237.50,444.00 L238.00,444.00 L238.50,444.00 L239.00,444.00 L239.50,444.00 L240.00,444.00 L240.50,443.99 L241.00,443.99 L241.50,443.99 L242.00,443.98 L242.50,443.98 L243.00,443.97 L243.50,443.95 L244.00,443.94 L244.50,443.91 L245.00,443.88 L245.50,443.83 L246.00,443.78 L246.50,443.70 L247.00,443.60 L247.50,443.48 L248.00,443.32 L248.50,443.12 L249.00,442.87 L249.50,442.55 L250.00,442.17 L250.50,441.70 L251.00,441.13 L251.50,440.45 L252.00,439.63 L252.50,438.67 L253.00,437.54 L253.50,436.23 L254.00,434.72 L254.50,432.98 L255.00,431.02 L255.50,428.80 L256.00,426.33 L256.50,423.59 L257.00,420.58 L257.50,417.29 L258.00,413.73 L258.50,409.90 L259.00,405.83 L259.50,401.53 L260.00,397.02 L260.50,392.33 L261.00,387.50 L261.50,382.56 L262.00,377.55 L262.50,372.53 L263.00,367.53 L263.50,362.60 L264.00,357.80 L264.50,353.16 L265.00,348.75 L265.50,344.60 L266.00,340.75 L266.50,337.24 L267.00,334.10 L267.50,331.36 L268.00,329.04 L268.50,327.14 L269.00,325.67 L269.50,324.62 L270.00,324.00 L270.50,323.77 L271.00,323.92 L271.50,324.41 L272.00,325.21 L272.50,326.26 L273.00,327.53 L273.50,328.97 L274.00,330.52 L274.50,332.12 L275.00,333.74 L275.50,335.31 L276.00,336.79 L276.50,338.13 L277.00,339.29 L277.50,340.24 L278.00,340.95 L278.50,341.40 L279.00,341.57 L279.50,341.47 L280.00,341.09 L280.50,340.44 L281.00,339.54 L281.50,338.42 L282.00,337.11 L282.50,335.65 L283.00,334.08 L283.50,332.45 L284.00,330.80 L284.50,329.19 L285.00,327.68 L285.50,326.31 L286.00,325.14 L286.50,324.21 L287.00,323.57 L287.50,323.26 L288.00,323.31 L288.50,323.76 L289.00,324.62 L289.50,325.92 L290.00,327.65 L290.50,329.82 L291.00,332.43 L291.50,335.45 L292.00,338.87 L292.50,342.66 L293.00,346.78 L293.50,351.19 L294.00,355.86 L294.50,360.72 L295.00,365.74 L295.50,370.86 L296.00,376.02 L296.50,381.19 L297.00,386.30 L297.50,391.31 L298.00,396.18 L298.50,400.88 L299.00,405.36 L299.50,409.60 L300.00,413.57 L300.50,417.27 L301.00,420.68 L301.50,423.80 L302.00,426.63 L302.50,429.16 L303.00,431.42 L303.50,433.42 L304.00,435.17 L304.50,436.68 L305.00,437.98 L305.50,439.09 L306.00,440.03 L306.50,440.81 L307.00,441.46 L307.50,441.99 L308.00,442.43 L308.50,442.78 L309.00,443.06 L309.50,443.28 L310.00,443.46 L310.50,443.59 L311.00,443.69 L311.50,443.77 L312.00,443.83 L312.50,443.88 L313.00,443.91 L313.50,443.93 L314.00,443.95 L314.50,443.95 L315.00,443.96 L315.50,443.96 L316.00,443.96 L316.50,443.96 L317.00,443.96 L317.50,443.95 L318.00,443.94 L318.50,443.93 L319.00,443.93 L319.50,443.92 L320.00,443.91 L320.50,443.89 L321.00,443.88 L321.50,443.87 L322.00,443.86 L322.50,443.85 L323.00,443.84 L323.50,443.83 L324.00,443.82 L324.50,443.81 L325.00,443.80 L325.50,443.79 L326.00,443.79 L326.50,443.79 L327.00,443.78 L327.50,443.79 L328.00,443.79 L328.50,443.79 L329.00,443.80 L329.50,443.80 L330.00,443.81 L330.50,443.82 L331.00,443.83 L331.50,443.84 L332.00,443.86 L332.50,443.87 L333.00,443.88 L333.50,443.89 L334.00,443.90 L334.50,443.91 L335.00,443.92 L335.50,443.93 L336.00,443.94 L336.50,443.94 L337.00,443.95 L337.50,443.95 L338.00,443.95 L338.50,443.94 L339.00,443.94 L339.50,443.92 L340.00,443.90 L340.50,443.88 L341.00,443.84 L341.50,443.79 L342.00,443.73 L342.50,443.65 L343.00,443.55 L343.50,443.42 L344.00,443.26 L344.50,443.06 L345.00,442.82 L345.50,442.53 L346.00,442.19 L346.50,441.78 L347.00,441.31 L347.50,440.75 L348.00,440.11 L348.50,439.39 L349.00,438.56 L349.50,437.64 L350.00,436.61 L350.50,435.47 L351.00,434.23 L351.50,432.89 L352.00,431.44 L352.50,429.90 L353.00,428.26 L353.50,426.54 L354.00,424.74 L354.50,422.88 L355.00,420.95 L355.50,418.96 L356.00,416.93 L356.50,414.85 L357.00,412.72 L357.50,410.56 L358.00,408.35 L358.50,406.08 L359.00,403.77 L359.50,401.38 L360.00,398.92 L360.50,396.37 L361.00,393.72 L361.50,390.96 L362.00,388.08 L362.50,385.07 L363.00,381.93 L363.50,378.66 L364.00,375.28 L364.50,371.78 L365.00,368.19 L365.50,364.53 L366.00,360.83 L366.50,357.13 L367.00,353.47 L367.50,349.90 L368.00,346.45 L368.50,343.18 L369.00,340.15 L369.50,337.39 L370.00,334.96 L370.50,332.90 L371.00,331.25 L371.50,330.03 L372.00,329.28 L372.50,329.01 L373.00,329.23 L373.50,329.94 L374.00,331.13 L374.50,332.79 L375.00,334.89 L375.50,337.40 L376.00,340.29 L376.50,343.52 L377.00,347.04 L377.50,350.80 L378.00,354.76 L378.50,358.88 L379.00,363.09 L379.50,367.37 L380.00,371.66 L380.50,375.93 L381.00,380.15 L381.50,384.29 L382.00,388.32 L382.50,392.21 L383.00,395.97 L383.50,399.56 L384.00,402.99 L384.50,406.25 L385.00,409.34 L385.50,412.26 L386.00,415.00 L386.50,417.58 L387.00,419.99 L387.50,422.24 L388.00,424.35 L388.50,426.31 L389.00,428.12 L389.50,429.80 L390.00,431.35 L390.50,432.78 L391.00,434.09 L391.50,435.29 L392.00,436.37 L392.50,437.36 L393.00,438.24 L393.50,439.03 L394.00,439.73 L394.50,440.35 L395.00,440.89 L395.50,441.35 L396.00,441.74 L396.50,442.07 L397.00,442.32 L397.50,442.52 L398.00,442.65 L398.50,442.72 L399.00,442.72 L399.50,442.66 L400.00,442.52 L400.50,442.31 L401.00,442.02 L401.50,441.64 L402.00,441.15 L402.50,440.56 L403.00,439.84 L403.50,438.99 L404.00,438.00 L404.50,436.85 L405.00,435.54 L405.50,434.05 L406.00,432.39 L406.50,430.54 L407.00,428.50 L407.50,426.28 L408.00,423.88 L408.50,421.30 L409.00,418.56 L409.50,415.66 L410.00,412.64 L410.50,409.50 L411.00,406.27 L411.50,402.98 L412.00,399.64 L412.50,396.29 L413.00,392.95 L413.50,389.64 L414.00,386.40 L414.50,383.23 L415.00,380.17 L415.50,377.22 L416.00,374.41 L416.50,371.74 L417.00,369.23 L417.50,366.87 L418.00,364.67 L418.50,362.63 L419.00,360.75 L419.50,359.02 L420.00,357.45 L420.50,356.02 L421.00,354.73 L421.50,353.59 L422.00,352.57 L422.50,351.69 L423.00,350.95 L423.50,350.34 L424.00,349.86 L424.50,349.53 L425.00,349.35 L425.50,349.32 L426.00,349.45 L426.50,349.76 L427.00,350.24 L427.50,350.92 L428.00,351.78 L428.50,352.85 L429.00,354.12 L429.50,355.60 L430.00,357.28 L430.50,359.16 L431.00,361.23 L431.50,363.48 L432.00,365.90 L432.50,368.47 L433.00,371.18 L433.50,374.00 L434.00,376.90 L434.50,379.88 L435.00,382.89 L435.50,385.91 L436.00,388.92 L436.50,391.90 L437.00,394.80 L437.50,397.63 L438.00,400.34 L438.50,402.92 L439.00,405.37 L439.50,407.65 L440.00,409.77 L440.50,411.71 L441.00,413.48 L441.50,415.06 L442.00,416.47 L442.50,417.71 L443.00,418.78 L443.50,419.69 L444.00,420.46 L444.50,421.09 L445.00,421.60 L445.50,422.00 L446.00,422.30 L446.50,422.53 L447.00,422.69 L447.50,422.79 L448.00,422.85 L448.50,422.87 L449.00,422.87 L449.50,422.86 L450.00,422.84 L450.50,422.81 L451.00,422.78 L451.50,422.75 L452.00,422.74 L452.50,422.72 L453.00,422.72 L453.50,422.72 L454.00,422.72 L454.50,422.73 L455.00,422.74 L455.50,422.75 L456.00,422.76 L456.50,422.77 L457.00,422.77 L457.50,422.77 L458.00,422.76 L458.50,422.73 L459.00,422.70 L459.50,422.65 L460.00,422.59 L460.50,422.52 L461.00,422.42 L461.50,422.31 L462.00,422.18 L462.50,422.04 L463.00,421.87 L463.50,421.68 L464.00,421.46 L464.50,421.23 L465.00,420.96 L465.50,420.68 L466.00,420.36 L466.50,420.02 L467.00,419.66 L467.50,419.26 L468.00,418.84 L468.50,418.40 L469.00,417.93 L469.50,417.43 L470.00,416.91 L470.50,416.37 L471.00,415.82 L471.50,415.25 L472.00,414.66 L472.50,414.07 L473.00,413.47 L473.50,412.87 L474.00,412.28 L474.50,411.69 L475.00,411.11 L475.50,410.56 L476.00,410.02 L476.50,409.52 L477.00,409.05 L477.50,408.61 L478.00,408.22 L478.50,407.88 L479.00,407.58 L479.50,407.34 L480.00,407.16 L480.50,407.03 L481.00,406.97 L481.50,406.97 L482.00,407.02 L482.50,407.14 L483.00,407.32 L483.50,407.54 L484.00,407.82 L484.50,408.15 L485.00,408.51 L485.50,408.91 L486.00,409.34 L486.50,409.80 L487.00,410.26 L487.50,410.74 L488.00,411.21 L488.50,411.68 L489.00,412.14 L489.50,412.58 L490.00,413.00 L490.50,413.39 L491.00,413.75 L491.50,414.08 L492.00,414.37 L492.50,414.62 L493.00,414.84 L493.50,415.03 L494.00,415.18 L494.50,415.30 L495.00,415.41 L495.50,415.49 L496.00,415.56 L496.50,415.62 L497.00,415.68 L497.50,415.75 L498.00,415.83 L498.50,415.93 L499.00,416.06 L499.50,416.22 L500.00,416.41 L500.50,416.65 L501.00,416.94 L501.50,417.28 L502.00,417.67 L502.50,418.11 L503.00,418.62 L503.50,419.18 L504.00,419.79 L504.50,420.46 L505.00,421.18 L505.50,421.95 L506.00,422.77 L506.50,423.62 L507.00,424.51 L507.50,425.43 L508.00,426.37 L508.50,427.33 L509.00,428.30 L509.50,429.28 L510.00,430.25 L510.50,431.21 L511.00,432.15 L511.50,433.08 L512.00,433.98 L512.50,434.85 L513.00,435.68 L513.50,436.48 L514.00,437.23 L514.50,437.94 L515.00,438.61 L515.50,439.22 L516.00,439.79 L516.50,440.32 L517.00,440.79 L517.50,441.22 L518.00,441.61 L518.50,441.96 L519.00,442.26 L519.50,442.53 L520.00,442.77 L520.50,442.97 L521.00,443.15 L521.50,443.30 L522.00,443.43 L522.50,443.53 L523.00,443.63 L523.50,443.70 L524.00,443.76 L524.50,443.81 L525.00,443.85 L525.50,443.89 L526.00,443.91 L526.50,443.93 L527.00,443.95 L527.50,443.96 L528.00,443.97 L528.50,443.98 L529.00,443.98 L529.50,443.99 L530.00,443.99 L530.50,443.99 L531.00,444.00 L531.50,444.00 L532.00,444.00 L532.50,444.00 L533.00,444.00 L533.50,444.00 L534.00,444.00 L534.50,444.00 L535.00,444.00 L535.50,444.00 L536.00,444.00 L536.50,444.00 L537.00,444.00 L537.50,444.00 L538.00,444.00 L538.50,444.00 L539.00,444.00 L539.50,444.00 L540.00,444.00 L540.50,444.00 L541.00,444.00 L541.50,444.00 L542.00,444.00 L542.50,444.00 L543.00,444.00 L543.50,444.00 L544.00,444.00 L544.50,444.00 L545.00,444.00 L545.50,444.00 L546.00,444.00 L546.50,444.00 L547.00,444.00 L547.50,444.00 L548.00,444.00 L548.50,444.00 L549.00,444.00 L549.50,444.00 L550.00,444.00 L550.50,444.00 L551.00,444.00 L551.50,444.00 L552.00,444.00 L552.50,444.00 L553.00,444.00 L553.50,444.00 L554.00,444.00 L554.50,444.00 L555.00,444.00 L555.50,444.00 L556.00,444.00 L556.50,444.00 L557.00,444.00 L557.50,444.00 L558.00,444.00" fill="none" stroke="#269326" stroke-width="2.1" stroke-linejoin="round" stroke-dasharray="7.3,3.5"/>
<path d="M130.00,444.00 L130.50,444.00 L131.00,444.00 L131.50,444.00 L132.00,444.00 L132.50,444.00 L133.00,444.00 L133.50,444.00 L134.00,444.00 L134.50,444.00 L135.00,444.00 L135.50,444.00 L136.00,444.00 L136.50,444.00 L137.00,444.00 L137.50,444.00 L138.00,444.00 L138.50,444.00 L139.00,444.00 L139.50,444.00 L140.00,444.00 L140.50,444.00 L141.00,444.00 L141.50,444.00 L142.00,444.00 L142.50,444.00 L143.00,444.00 L143.50,444.00 L144.00,444.00 L144.50,444.00 L145.00,444.00 L145.50,444.00 L146.00,444.00 L146.50,444.00 L147.00,444.00 L147.50,444.00 L148.00,444.00 L148.50,444.00 L149.00,444.00 L149.50,444.00 L150.00,444.00 L150.50,444.00 L151.00,444.00 L151.50,444.00 L152.00,444.00 L152.50,444.00 L153.00,444.00 L153.50,444.00 L154.00,444.00 L154.50,444.00 L155.00,444.00 L155.50,444.00 L156.00,444.00 L156.50,444.00 L157.00,444.00 L157.50,444.00 L158.00,444.00 L158.50,444.00 L159.00,444.00 L159.50,444.00 L160.00,444.00 L160.50,444.00 L161.00,444.00 L161.50,444.00 L162.00,444.00 L162.50,444.00 L163.00,444.00 L163.50,444.00 L164.00,444.00 L164.50,444.00 L165.00,444.00 L165.50,444.00 L166.00,443.99 L166.50,443.99 L167.00,443.98 L167.50,443.97 L168.00,443.95 L168.50,443.92 L169.00,443.88 L169.50,443.82 L170.00,443.74 L170.50,443.62 L171.00,443.45 L171.50,443.22 L172.00,442.90 L172.50,442.48 L173.00,441.92 L173.50,441.19 L174.00,440.26 L174.50,439.08 L175.00,437.62 L175.50,435.83 L176.00,433.66 L176.50,431.09 L177.00,428.07 L177.50,424.58 L178.00,420.61 L178.50,416.16 L179.00,411.25 L179.50,405.90 L180.00,400.17 L180.50,394.12 L181.00,387.83 L181.50,381.38 L182.00,374.88 L182.50,368.41 L183.00,362.08 L183.50,355.97 L184.00,350.16 L184.50,344.71 L185.00,339.68 L185.50,335.10 L186.00,330.98 L186.50,327.34 L187.00,324.16 L187.50,321.44 L188.00,319.16 L188.50,317.31 L189.00,315.87 L189.50,314.86 L190.00,314.26 L190.50,314.09 L191.00,314.37 L191.50,315.14 L192.00,316.41 L192.50,318.22 L193.00,320.58 L193.50,323.53 L194.00,327.07 L194.50,331.18 L195.00,335.85 L195.50,341.04 L196.00,346.70 L196.50,352.75 L197.00,359.12 L197.50,365.71 L198.00,372.42 L198.50,379.15 L199.00,385.79 L199.50,392.27 L200.00,398.48 L200.50,404.35 L201.00,409.83 L201.50,414.87 L202.00,419.43 L202.50,423.51 L203.00,427.11 L203.50,430.24 L204.00,432.91 L204.50,435.17 L205.00,437.06 L205.50,438.60 L206.00,439.85 L206.50,440.85 L207.00,441.63 L207.50,442.23 L208.00,442.69 L208.50,443.02 L209.00,443.27 L209.50,443.44 L210.00,443.55 L210.50,443.62 L211.00,443.65 L211.50,443.66 L212.00,443.66 L212.50,443.64 L213.00,443.61 L213.50,443.58 L214.00,443.55 L214.50,443.52 L215.00,443.48 L215.50,443.46 L216.00,443.44 L216.50,443.42 L217.00,443.42 L217.50,443.42 L218.00,443.43 L218.50,443.45 L219.00,443.47 L219.50,443.50 L220.00,443.53 L220.50,443.57 L221.00,443.61 L221.50,443.65 L222.00,443.69 L222.50,443.73 L223.00,443.77 L223.50,443.80 L224.00,443.83 L224.50,443.85 L225.00,443.86 L225.50,443.86 L226.00,443.86 L226.50,443.83 L227.00,443.78 L227.50,443.71 L228.00,443.60 L228.50,443.44 L229.00,443.21 L229.50,442.90 L230.00,442.49 L230.50,441.95 L231.00,441.25 L231.50,440.36 L232.00,439.25 L232.50,437.87 L233.00,436.19 L233.50,434.18 L234.00,431.81 L234.50,429.05 L235.00,425.90 L235.50,422.33 L236.00,418.37 L236.50,414.03 L237.00,409.35 L237.50,404.38 L238.00,399.16 L238.50,393.78 L239.00,388.30 L239.50,382.80 L240.00,377.36 L240.50,372.05 L241.00,366.93 L241.50,362.06 L242.00,357.48 L242.50,353.23 L243.00,349.31 L243.50,345.73 L244.00,342.50 L244.50,339.60 L245.00,337.02 L245.50,334.74 L246.00,332.74 L246.50,331.00 L247.00,329.52 L247.50,328.29 L248.00,327.30 L248.50,326.54 L249.00,326.02 L249.50,325.72 L250.00,325.65 L250.50,325.80 L251.00,326.14 L251.50,326.66 L252.00,327.32 L252.50,328.11 L253.00,328.97 L253.50,329.86 L254.00,330.75 L254.50,331.59 L255.00,332.33 L255.50,332.93 L256.00,333.37 L256.50,333.61 L257.00,333.64 L257.50,333.45 L258.00,333.04 L258.50,332.43 L259.00,331.63 L259.50,330.68 L260.00,329.62 L260.50,328.49 L261.00,327.35 L261.50,326.26 L262.00,325.27 L262.50,324.45 L263.00,323.86 L263.50,323.54 L264.00,323.55 L264.50,323.93 L265.00,324.72 L265.50,325.93 L266.00,327.57 L266.50,329.65 L267.00,332.16 L267.50,335.07 L268.00,338.37 L268.50,342.00 L269.00,345.93 L269.50,350.10 L270.00,354.48 L270.50,359.01 L271.00,363.64 L271.50,368.32 L272.00,373.01 L272.50,377.67 L273.00,382.26 L273.50,386.75 L274.00,391.12 L274.50,395.33 L275.00,399.38 L275.50,403.24 L276.00,406.91 L276.50,410.37 L277.00,413.61 L277.50,416.62 L278.00,419.41 L278.50,421.97 L279.00,424.30 L279.50,426.39 L280.00,428.26 L280.50,429.92 L281.00,431.36 L281.50,432.60 L282.00,433.66 L282.50,434.55 L283.00,435.30 L283.50,435.91 L284.00,436.41 L284.50,436.82 L285.00,437.16 L285.50,437.44 L286.00,437.69 L286.50,437.91 L287.00,438.12 L287.50,438.33 L288.00,438.54 L288.50,438.76 L289.00,439.00 L289.50,439.25 L290.00,439.52 L290.50,439.79 L291.00,440.07 L291.50,440.36 L292.00,440.65 L292.50,440.93 L293.00,441.21 L293.50,441.48 L294.00,441.73 L294.50,441.97 L295.00,442.19 L295.50,442.40 L296.00,442.58 L296.50,442.75 L297.00,442.90 L297.50,443.04 L298.00,443.16 L298.50,443.27 L299.00,443.36 L299.50,443.44 L300.00,443.51 L300.50,443.58 L301.00,443.64 L301.50,443.69 L302.00,443.73 L302.50,443.77 L303.00,443.80 L303.50,443.83 L304.00,443.86 L304.50,443.88 L305.00,443.90 L305.50,443.92 L306.00,443.94 L306.50,443.95 L307.00,443.96 L307.50,443.97 L308.00,443.98 L308.50,443.98 L309.00,443.99 L309.50,443.99 L310.00,443.99 L310.50,443.99 L311.00,444.00 L311.50,444.00 L312.00,444.00 L312.50,444.00 L313.00,444.00 L313.50,444.00 L314.00,444.00 L314.50,444.00 L315.00,444.00 L315.50,444.00 L316.00,444.00 L316.50,444.00 L317.00,444.00 L317.50,444.00 L318.00,444.00 L318.50,444.00 L319.00,444.00 L319.50,444.00 L320.00,444.00 L320.50,444.00 L321.00,444.00 L321.50,444.00 L322.00,444.00 L322.50,444.00 L323.00,444.00 L323.50,444.00 L324.00,444.00 L324.50,444.00 L325.00,444.00 L325.50,444.00 L326.00,444.00 L326.50,444.00 L327.00,444.00 L327.50,444.00 L328.00,444.00 L328.50,444.00 L329.00,444.00 L329.50,444.00 L330.00,444.00 L330.50,444.00 L331.00,444.00 L331.50,444.00 L332.00,444.00 L332.50,444.00 L333.00,444.00 L333.50,444.00 L334.00,444.00 L334.50,444.00 L335.00,444.00 L335.50,444.00 L336.00,444.00 L336.50,444.00 L337.00,444.00 L337.50,444.00 L338.00,444.00 L338.50,444.00 L339.00,444.00 L339.50,444.00 L340.00,444.00 L340.50,444.00 L341.00,444.00 L341.50,444.00 L342.00,444.00 L342.50,444.00 L343.00,444.00 L343.50,444.00 L344.00,444.00 L344.50,444.00 L345.00,444.00 L345.50,444.00 L346.00,444.00 L346.50,444.00 L347.00,444.00 L347.50,444.00 L348.00,444.00 L348.50,444.00 L349.00,444.00 L349.50,444.00 L350.00,444.00 L350.50,444.00 L351.00,444.00 L351.50,444.00 L352.00,444.00 L352.50,444.00 L353.00,444.00 L353.50,444.00 L354.00,444.00 L354.50,444.00 L355.00,444.00 L355.50,444.00 L356.00,444.00 L356.50,444.00 L357.00,444.00 L357.50,444.00 L358.00,444.00 L358.50,444.00 L359.00,444.00 L359.50,444.00 L360.00,444.00 L360.50,444.00 L361.00,444.00 L361.50,444.00 L362.00,444.00 L362.50,444.00 L363.00,444.00 L363.50,444.00 L364.00,444.00 L364.50,444.00 L365.00,444.00 L365.50,444.00 L366.00,444.00 L366.50,444.00 L367.00,444.00 L367.50,444.00 L368.00,444.00 L368.50,444.00 L369.00,444.00 L369.50,444.00 L370.00,444.00 L370.50,444.00 L371.00,444.00 L371.50,444.00 L372.00,444.00 L372.50,444.00 L373.00,444.00 L373.50,444.00 L374.00,444.00 L374.50,444.00 L375.00,444.00 L375.50,444.00 L376.00,444.00 L376.50,444.00 L377.00,444.00 L377.50,444.00 L378.00,444.00 L378.50,444.00 L379.00,444.00 L379.50,444.00 L380.00,444.00 L380.50,444.00 L381.00,444.00 L381.50,444.00 L382.00,444.00 L382.50,444.00 L383.00,444.00 L383.50,444.00 L384.00,444.00 L384.50,444.00 L385.00,444.00 L385.50,444.00 L386.00,444.00 L386.50,444.00 L387.00,444.00 L387.50,444.00 L388.00,444.00 L388.50,444.00 L389.00,444.00 L389.50,444.00 L390.00,444.00 L390.50,444.00 L391.00,444.00 L391.50,444.00 L392.00,444.00 L392.50,444.00 L393.00,444.00 L393.50,444.00 L394.00,444.00 L394.50,444.00 L395.00,444.00 L395.50,444.00 L396.00,444.00 L396.50,444.00 L397.00,444.00 L397.50,444.00 L398.00,444.00 L398.50,444.00 L399.00,444.00 L399.50,444.00 L400.00,444.00 L400.50,444.00 L401.00,444.00 L401.50,444.00 L402.00,444.00 L402.50,444.00 L403.00,444.00 L403.50,444.00 L404.00,444.00 L404.50,444.00 L405.00,444.00 L405.50,444.00 L406.00,444.00 L406.50,444.00 L407.00,444.00 L407.50,444.00 L408.00,444.00 L408.50,444.00 L409.00,444.00 L409.50,444.00 L410.00,444.00 L410.50,444.00 L411.00,444.00 L411.50,444.00 L412.00,444.00 L412.50,444.00 L413.00,444.00 L413.50,444.00 L414.00,444.00 L414.50,444.00 L415.00,444.00 L415.50,444.00 L416.00,444.00 L416.50,444.00 L417.00,444.00 L417.50,444.00 L418.00,444.00 L418.50,444.00 L419.00,444.00 L419.50,444.00 L420.00,444.00 L420.50,444.00 L421.00,444.00 L421.50,444.00 L422.00,444.00 L422.50,444.00 L423.00,444.00 L423.50,444.00 L424.00,444.00 L424.50,444.00 L425.00,444.00 L425.50,444.00 L426.00,444.00 L426.50,444.00 L427.00,444.00 L427.50,444.00 L428.00,444.00 L428.50,444.00 L429.00,444.00 L429.50,444.00 L430.00,444.00 L430.50,444.00 L431.00,444.00 L431.50,444.00 L432.00,444.00 L432.50,444.00 L433.00,444.00 L433.50,444.00 L434.00,444.00 L434.50,444.00 L435.00,444.00 L435.50,444.00 L436.00,444.00 L436.50,444.00 L437.00,444.00 L437.50,444.00 L438.00,444.00 L438.50,444.00 L439.00,444.00 L439.50,444.00 L440.00,444.00 L440.50,444.00 L441.00,444.00 L441.50,444.00 L442.00,444.00 L442.50,444.00 L443.00,444.00 L443.50,444.00 L444.00,444.00 L444.50,444.00 L445.00,444.00 L445.50,444.00 L446.00,444.00 L446.50,444.00 L447.00,444.00 L447.50,444.00 L448.00,444.00 L448.50,444.00 L449.00,444.00 L449.50,444.00 L450.00,444.00 L450.50,444.00 L451.00,444.00 L451.50,444.00 L452.00,444.00 L452.50,444.00 L453.00,444.00 L453.50,444.00 L454.00,444.00 L454.50,444.00 L455.00,444.00 L455.50,444.00 L456.00,444.00 L456.50,444.00 L457.00,444.00 L457.50,444.00 L458.00,444.00 L458.50,444.00 L459.00,444.00 L459.50,444.00 L460.00,444.00 L460.50,444.00 L461.00,444.00 L461.50,444.00 L462.00,444.00 L462.50,444.00 L463.00,444.00 L463.50,444.00 L464.00,444.00 L464.50,444.00 L465.00,444.00 L465.50,444.00 L466.00,444.00 L466.50,444.00 L467.00,444.00 L467.50,444.00 L468.00,444.00 L468.50,444.00 L469.00,444.00 L469.50,444.00 L470.00,444.00 L470.50,444.00 L471.00,444.00 L471.50,444.00 L472.00,444.00 L472.50,444.00 L473.00,444.00 L473.50,444.00 L474.00,444.00 L474.50,444.00 L475.00,444.00 L475.50,444.00 L476.00,444.00 L476.50,444.00 L477.00,444.00 L477.50,444.00 L478.00,444.00 L478.50,444.00 L479.00,444.00 L479.50,444.00 L480.00,444.00 L480.50,444.00 L481.00,444.00 L481.50,444.00 L482.00,444.00 L482.50,444.00 L483.00,444.00 L483.50,444.00 L484.00,444.00 L484.50,444.00 L485.00,444.00 L485.50,444.00 L486.00,444.00 L486.50,444.00 L487.00,444.00 L487.50,444.00 L488.00,444.00 L488.50,444.00 L489.00,444.00 L489.50,444.00 L490.00,444.00 L490.50,444.00 L491.00,444.00 L491.50,444.00 L492.00,444.00 L492.50,444.00 L493.00,444.00 L493.50,444.00 L494.00,444.00 L494.50,444.00 L495.00,444.00 L495.50,444.00 L496.00,444.00 L496.50,444.00 L497.00,444.00 L497.50,444.00 L498.00,444.00 L498.50,444.00 L499.00,444.00 L499.50,444.00 L500.00,444.00 L500.50,444.00 L501.00,444.00 L501.50,444.00 L502.00,444.00 L502.50,444.00 L503.00,444.00 L503.50,444.00 L504.00,444.00 L504.50,444.00 L505.00,444.00 L505.50,444.00 L506.00,444.00 L506.50,444.00 L507.00,444.00 L507.50,444.00 L508.00,444.00 L508.50,444.00 L509.00,444.00 L509.50,444.00 L510.00,444.00 L510.50,444.00 L511.00,444.00 L511.50,444.00 L512.00,444.00 L512.50,444.00 L513.00,444.00 L513.50,444.00 L514.00,444.00 L514.50,444.00 L515.00,444.00 L515.50,444.00 L516.00,444.00 L516.50,444.00 L517.00,444.00 L517.50,444.00 L518.00,444.00 L518.50,444.00 L519.00,444.00 L519.50,444.00 L520.00,444.00 L520.50,444.00 L521.00,444.00 L521.50,444.00 L522.00,444.00 L522.50,444.00 L523.00,444.00 L523.50,444.00 L524.00,444.00 L524.50,444.00 L525.00,444.00 L525.50,444.00 L526.00,444.00 L526.50,444.00 L527.00,444.00 L527.50,444.00 L528.00,444.00 L528.50,444.00 L529.00,444.00 L529.50,444.00 L530.00,444.00 L530.50,444.00 L531.00,444.00 L531.50,444.00 L532.00,444.00 L532.50,444.00 L533.00,444.00 L533.50,444.00 L534.00,444.00 L534.50,444.00 L535.00,444.00 L535.50,444.00 L536.00,444.00 L536.50,444.00 L537.00,444.00 L537.50,444.00 L538.00,444.00 L538.50,444.00 L539.00,444.00 L539.50,444.00 L540.00,444.00 L540.50,444.00 L541.00,444.00 L541.50,444.00 L542.00,444.00 L542.50,444.00 L543.00,444.00 L543.50,444.00 L544.00,444.00 L544.50,444.00 L545.00,444.00 L545.50,444.00 L546.00,444.00 L546.50,444.00 L547.00,444.00 L547.50,444.00 L548.00,444.00 L548.50,444.00 L549.00,444.00 L549.50,444.00 L550.00,444.00 L550.50,444.00 L551.00,444.00 L551.50,444.00 L552.00,444.00 L552.50,444.00 L553.00,444.00 L553.50,444.00 L554.00,444.00 L554.50,444.00 L555.00,444.00 L555.50,444.00 L556.00,444.00 L556.50,444.00 L557.00,444.00 L557.50,444.00 L558.00,444.00" fill="none" stroke="#ff26ff" stroke-width="2.1" stroke-linejoin="round" stroke-dasharray="7.3,3.5"/>
<path d="M23.00,444.00 L23.50,444.00 L24.00,444.00 L24.50,444.00 L25.00,444.00 L25.50,444.00 L26.00,444.00 L26.50,444.00 L27.00,444.00 L27.50,444.00 L28.00,444.00 L28.50,444.00 L29.00,444.00 L29.50,444.00 L30.00,444.00 L30.50,444.00 L31.00,444.00 L31.50,444.00 L32.00,444.00 L32.50,444.00 L33.00,444.00 L33.50,444.00 L34.00,444.00 L34.50,444.00 L35.00,444.00 L35.50,444.00 L36.00,444.00 L36.50,444.00 L37.00,444.00 L37.50,444.00 L38.00,444.00 L38.50,444.00 L39.00,444.00 L39.50,444.00 L40.00,444.00 L40.50,444.00 L41.00,444.00 L41.50,444.00 L42.00,444.00 L42.50,444.00 L43.00,444.00 L43.50,444.00 L44.00,444.00 L44.50,444.00 L45.00,444.00 L45.50,444.00 L46.00,444.00 L46.50,444.00 L47.00,444.00 L47.50,444.00 L48.00,444.00 L48.50,444.00 L49.00,444.00 L49.50,444.00 L50.00,444.00 L50.50,444.00 L51.00,444.00 L51.50,444.00 L52.00,444.00 L52.50,444.00 L53.00,444.00 L53.50,444.00 L54.00,444.00 L54.50,444.00 L55.00,444.00 L55.50,444.00 L56.00,444.00 L56.50,444.00 L57.00,444.00 L57.50,444.00 L58.00,444.00 L58.50,444.00 L59.00,444.00 L59.50,444.00 L60.00,444.00 L60.50,444.00 L61.00,444.00 L61.50,444.00 L62.00,444.00 L62.50,444.00 L63.00,444.00 L63.50,444.00 L64.00,444.00 L64.50,444.00 L65.00,444.00 L65.50,444.00 L66.00,444.00 L66.50,444.00 L67.00,444.00 L67.50,444.00 L68.00,444.00 L68.50,444.00 L69.00,444.00 L69.50,444.00 L70.00,444.00 L70.50,444.00 L71.00,444.00 L71.50,444.00 L72.00,444.00 L72.50,444.00 L73.00,444.00 L73.50,444.00 L74.00,444.00 L74.50,444.00 L75.00,444.00 L75.50,444.00 L76.00,444.00 L76.50,444.00 L77.00,444.00 L77.50,444.00 L78.00,444.00 L78.50,444.00 L79.00,444.00 L79.50,444.00 L80.00,444.00 L80.50,444.00 L81.00,444.00 L81.50,444.00 L82.00,444.00 L82.50,444.00 L83.00,444.00 L83.50,444.00 L84.00,444.00 L84.50,444.00 L85.00,444.00 L85.50,444.00 L86.00,444.00 L86.50,444.00 L87.00,444.00 L87.50,444.00 L88.00,444.00 L88.50,444.00 L89.00,444.00 L89.50,444.00 L90.00,444.00 L90.50,444.00 L91.00,444.00 L91.50,444.00 L92.00,444.00 L92.50,444.00 L93.00,444.00 L93.50,444.00 L94.00,444.00 L94.50,444.00 L95.00,444.00 L95.50,444.00 L96.00,444.00 L96.50,444.00 L97.00,444.00 L97.50,444.00 L98.00,444.00 L98.50,444.00 L99.00,444.00 L99.50,444.00 L100.00,444.00 L100.50,444.00 L101.00,444.00 L101.50,444.00 L102.00,444.00 L102.50,444.00 L103.00,444.00 L103.50,444.00 L104.00,444.00 L104.50,444.00 L105.00,444.00 L105.50,444.00 L106.00,444.00 L106.50,444.00 L107.00,444.00 L107.50,444.00 L108.00,444.00 L108.50,444.00 L109.00,444.00 L109.50,444.00 L110.00,444.00 L110.50,444.00 L111.00,444.00 L111.50,444.00 L112.00,444.00 L112.50,444.00 L113.00,444.00 L113.50,444.00 L114.00,444.00 L114.50,444.00 L115.00,444.00 L115.50,444.00 L116.00,444.00 L116.50,444.00 L117.00,444.00 L117.50,444.00 L118.00,444.00 L118.50,443.99 L119.00,443.99 L119.50,443.98 L120.00,443.98 L120.50,443.96 L121.00,443.94 L121.50,443.91 L122.00,443.87 L122.50,443.81 L123.00,443.74 L123.50,443.64 L124.00,443.51 L124.50,443.35 L125.00,443.15 L125.50,442.91 L126.00,442.62 L126.50,442.29 L127.00,441.89 L127.50,441.44 L128.00,440.92 L128.50,440.34 L129.00,439.68 L129.50,438.95 L130.00,438.14 L130.50,437.24 L131.00,436.26 L131.50,435.20 L132.00,434.04 L132.50,432.80 L133.00,431.46 L133.50,430.04 L134.00,428.52 L134.50,426.90 L135.00,425.18 L135.50,423.36 L136.00,421.42 L136.50,419.36 L137.00,417.17 L137.50,414.85 L138.00,412.39 L138.50,409.79 L139.00,407.05 L139.50,404.19 L140.00,401.20 L140.50,398.11 L141.00,394.93 L141.50,391.68 L142.00,388.37 L142.50,385.04 L143.00,381.69 L143.50,378.35 L144.00,375.05 L144.50,371.81 L145.00,368.65 L145.50,365.60 L146.00,362.71 L146.50,360.00 L147.00,357.52 L147.50,355.32 L148.00,353.42 L148.50,351.88 L149.00,350.71 L149.50,349.95 L150.00,349.59 L150.50,349.62 L151.00,350.04 L151.50,350.79 L152.00,351.82 L152.50,353.09 L153.00,354.52 L153.50,356.07 L154.00,357.67 L154.50,359.27 L155.00,360.86 L155.50,362.41 L156.00,363.93 L156.50,365.42 L157.00,366.90 L157.50,368.41 L158.00,369.96 L158.50,371.58 L159.00,373.28 L159.50,375.07 L160.00,376.92 L160.50,378.83 L161.00,380.77 L161.50,382.71 L162.00,384.62 L162.50,386.47 L163.00,388.25 L163.50,389.97 L164.00,391.62 L164.50,393.22 L165.00,394.80 L165.50,396.39 L166.00,398.00 L166.50,399.63 L167.00,401.29 L167.50,402.96 L168.00,404.58 L168.50,406.11 L169.00,407.48 L169.50,408.61 L170.00,409.42 L170.50,409.86 L171.00,409.84 L171.50,409.33 L172.00,408.28 L172.50,406.67 L173.00,404.49 L173.50,401.74 L174.00,398.42 L174.50,394.56 L175.00,390.17 L175.50,385.27 L176.00,379.88 L176.50,374.01 L177.00,367.68 L177.50,360.86 L178.00,353.55 L178.50,345.70 L179.00,337.27 L179.50,328.18 L180.00,318.37 L180.50,307.81 L181.00,296.47 L181.50,284.38 L182.00,271.61 L182.50,258.32 L183.00,244.71 L183.50,231.03 L184.00,217.57 L184.50,204.63 L185.00,192.46 L185.50,181.30 L186.00,171.31 L186.50,162.58 L187.00,155.15 L187.50,148.99 L188.00,144.05 L188.50,140.29 L189.00,137.67 L189.50,136.22 L190.00,135.97 L190.50,137.00 L191.00,139.40 L191.50,143.23 L192.00,148.48 L192.50,155.08 L193.00,162.86 L193.50,171.56 L194.00,180.87 L194.50,190.44 L195.00,199.95 L195.50,209.15 L196.00,217.89 L196.50,226.14 L197.00,233.97 L197.50,241.56 L198.00,249.09 L198.50,256.75 L199.00,264.66 L199.50,272.81 L200.00,281.04 L200.50,289.06 L201.00,296.47 L201.50,302.83 L202.00,307.67 L202.50,310.64 L203.00,311.50 L203.50,310.18 L204.00,306.83 L204.50,301.74 L205.00,295.31 L205.50,288.04 L206.00,280.36 L206.50,272.66 L207.00,265.18 L207.50,258.01 L208.00,251.10 L208.50,244.25 L209.00,237.24 L209.50,229.80 L210.00,221.77 L210.50,213.03 L211.00,203.65 L211.50,193.80 L212.00,183.75 L212.50,173.87 L213.00,164.54 L213.50,156.11 L214.00,148.84 L214.50,142.91 L215.00,138.39 L215.50,135.24 L216.00,133.34 L216.50,132.55 L217.00,132.71 L217.50,133.69 L218.00,135.41 L218.50,137.85 L219.00,141.07 L219.50,145.13 L220.00,150.13 L220.50,156.16 L221.00,163.23 L221.50,171.36 L222.00,180.44 L222.50,190.33 L223.00,200.85 L223.50,211.78 L224.00,222.89 L224.50,233.98 L225.00,244.90 L225.50,255.53 L226.00,265.83 L226.50,275.78 L227.00,285.42 L227.50,294.80 L228.00,303.96 L228.50,312.93 L229.00,321.73 L229.50,330.35 L230.00,338.72 L230.50,346.76 L231.00,354.38 L231.50,361.46 L232.00,367.87 L232.50,373.48 L233.00,378.17 L233.50,381.83 L234.00,384.37 L234.50,385.71 L235.00,385.81 L235.50,384.67 L236.00,382.30 L236.50,378.79 L237.00,374.24 L237.50,368.80 L238.00,362.63 L238.50,355.94 L239.00,348.92 L239.50,341.75 L240.00,334.62 L240.50,327.66 L241.00,321.00 L241.50,314.73 L242.00,308.91 L242.50,303.56 L243.00,298.72 L243.50,294.36 L244.00,290.49 L244.50,287.07 L245.00,284.10 L245.50,281.54 L246.00,279.36 L246.50,277.55 L247.00,276.07 L247.50,274.91 L248.00,274.06 L248.50,273.51 L249.00,273.26 L249.50,273.33 L250.00,273.72 L250.50,274.42 L251.00,275.43 L251.50,276.71 L252.00,278.18 L252.50,279.74 L253.00,281.28 L253.50,282.63 L254.00,283.63 L254.50,284.09 L255.00,283.87 L255.50,282.83 L256.00,280.88 L256.50,277.98 L257.00,274.15 L257.50,269.45 L258.00,263.99 L258.50,257.91 L259.00,251.40 L259.50,244.60 L260.00,237.69 L260.50,230.78 L261.00,224.00 L261.50,217.42 L262.00,211.08 L262.50,205.00 L263.00,199.21 L263.50,193.70 L264.00,188.48 L264.50,183.58 L265.00,179.02 L265.50,174.86 L266.00,171.16 L266.50,167.97 L267.00,165.37 L267.50,163.42 L268.00,162.17 L268.50,161.67 L269.00,161.92 L269.50,162.96 L270.00,164.76 L270.50,167.32 L271.00,170.59 L271.50,174.54 L272.00,179.11 L272.50,184.25 L273.00,189.88 L273.50,195.93 L274.00,202.31 L274.50,208.90 L275.00,215.60 L275.50,222.29 L276.00,228.84 L276.50,235.13 L277.00,241.02 L277.50,246.40 L278.00,251.17 L278.50,255.23 L279.00,258.53 L279.50,261.03 L280.00,262.71 L280.50,263.58 L281.00,263.68 L281.50,263.08 L282.00,261.85 L282.50,260.11 L283.00,257.96 L283.50,255.54 L284.00,252.99 L284.50,250.43 L285.00,248.00 L285.50,245.83 L286.00,244.02 L286.50,242.65 L287.00,241.77 L287.50,241.39 L288.00,241.51 L288.50,242.07 L289.00,243.00 L289.50,244.22 L290.00,245.64 L290.50,247.20 L291.00,248.85 L291.50,250.58 L292.00,252.44 L292.50,254.50 L293.00,256.86 L293.50,259.67 L294.00,263.06 L294.50,267.14 L295.00,271.99 L295.50,277.65 L296.00,284.09 L296.50,291.25 L297.00,298.98 L297.50,307.13 L298.00,315.49 L298.50,323.89 L299.00,332.14 L299.50,340.09 L300.00,347.65 L300.50,354.76 L301.00,361.37 L301.50,367.51 L302.00,373.20 L302.50,378.47 L303.00,383.36 L303.50,387.89 L304.00,392.08 L304.50,395.92 L305.00,399.40 L305.50,402.51 L306.00,405.25 L306.50,407.60 L307.00,409.59 L307.50,411.25 L308.00,412.59 L308.50,413.67 L309.00,414.54 L309.50,415.22 L310.00,415.76 L310.50,416.15 L311.00,416.41 L311.50,416.50 L312.00,416.42 L312.50,416.12 L313.00,415.56 L313.50,414.71 L314.00,413.55 L314.50,412.07 L315.00,410.24 L315.50,408.08 L316.00,405.61 L316.50,402.85 L317.00,399.82 L317.50,396.56 L318.00,393.10 L318.50,389.47 L319.00,385.73 L319.50,381.90 L320.00,378.03 L320.50,374.18 L321.00,370.40 L321.50,366.74 L322.00,363.27 L322.50,360.02 L323.00,357.07 L323.50,354.43 L324.00,352.15 L324.50,350.24 L325.00,348.68 L325.50,347.47 L326.00,346.58 L326.50,345.96 L327.00,345.57 L327.50,345.37 L328.00,345.32 L328.50,345.39 L329.00,345.55 L329.50,345.80 L330.00,346.14 L330.50,346.60 L331.00,347.19 L331.50,347.95 L332.00,348.89 L332.50,350.05 L333.00,351.42 L333.50,353.02 L334.00,354.82 L334.50,356.81 L335.00,358.96 L335.50,361.23 L336.00,363.58 L336.50,365.98 L337.00,368.40 L337.50,370.83 L338.00,373.27 L338.50,375.71 L339.00,378.16 L339.50,380.63 L340.00,383.15 L340.50,385.70 L341.00,388.29 L341.50,390.90 L342.00,393.49 L342.50,396.02 L343.00,398.45 L343.50,400.72 L344.00,402.79 L344.50,404.62 L345.00,406.20 L345.50,407.52 L346.00,408.63 L346.50,409.55 L347.00,410.34 L347.50,411.06 L348.00,411.77 L348.50,412.50 L349.00,413.28 L349.50,414.09 L350.00,414.90 L350.50,415.64 L351.00,416.25 L351.50,416.64 L352.00,416.73 L352.50,416.44 L353.00,415.73 L353.50,414.56 L354.00,412.95 L354.50,410.89 L355.00,408.41 L355.50,405.53 L356.00,402.28 L356.50,398.66 L357.00,394.68 L357.50,390.33 L358.00,385.63 L358.50,380.57 L359.00,375.21 L359.50,369.58 L360.00,363.77 L360.50,357.88 L361.00,352.00 L361.50,346.22 L362.00,340.60 L362.50,335.17 L363.00,329.90 L363.50,324.72 L364.00,319.54 L364.50,314.24 L365.00,308.72 L365.50,302.90 L366.00,296.78 L366.50,290.38 L367.00,283.81 L367.50,277.23 L368.00,270.84 L368.50,264.84 L369.00,259.40 L369.50,254.70 L370.00,250.80 L370.50,247.75 L371.00,245.52 L371.50,244.02 L372.00,243.16 L372.50,242.84 L373.00,242.95 L373.50,243.43 L374.00,244.25 L374.50,245.42 L375.00,246.96 L375.50,248.90 L376.00,251.28 L376.50,254.10 L377.00,257.36 L377.50,260.99 L378.00,264.92 L378.50,269.05 L379.00,273.26 L379.50,277.44 L380.00,281.49 L380.50,285.34 L381.00,288.96 L381.50,292.32 L382.00,295.44 L382.50,298.36 L383.00,301.12 L383.50,303.77 L384.00,306.38 L384.50,308.97 L385.00,311.60 L385.50,314.30 L386.00,317.09 L386.50,319.98 L387.00,322.98 L387.50,326.09 L388.00,329.31 L388.50,332.62 L389.00,335.99 L389.50,339.39 L390.00,342.79 L390.50,346.15 L391.00,349.41 L391.50,352.55 L392.00,355.53 L392.50,358.33 L393.00,360.96 L393.50,363.42 L394.00,365.73 L394.50,367.92 L395.00,370.03 L395.50,372.09 L396.00,374.12 L396.50,376.15 L397.00,378.18 L397.50,380.20 L398.00,382.21 L398.50,384.17 L399.00,386.07 L399.50,387.89 L400.00,389.59 L400.50,391.16 L401.00,392.60 L401.50,393.88 L402.00,395.00 L402.50,395.96 L403.00,396.74 L403.50,397.35 L404.00,397.76 L404.50,397.96 L405.00,397.93 L405.50,397.66 L406.00,397.13 L406.50,396.34 L407.00,395.28 L407.50,393.98 L408.00,392.44 L408.50,390.68 L409.00,388.73 L409.50,386.61 L410.00,384.34 L410.50,381.93 L411.00,379.39 L411.50,376.71 L412.00,373.89 L412.50,370.91 L413.00,367.76 L413.50,364.44 L414.00,360.96 L414.50,357.33 L415.00,353.58 L415.50,349.75 L416.00,345.91 L416.50,342.11 L417.00,338.42 L417.50,334.90 L418.00,331.62 L418.50,328.60 L419.00,325.89 L419.50,323.50 L420.00,321.42 L420.50,319.64 L421.00,318.13 L421.50,316.85 L422.00,315.77 L422.50,314.85 L423.00,314.08 L423.50,313.42 L424.00,312.89 L424.50,312.47 L425.00,312.18 L425.50,312.03 L426.00,312.05 L426.50,312.25 L427.00,312.64 L427.50,313.23 L428.00,314.01 L428.50,314.98 L429.00,316.10 L429.50,317.36 L430.00,318.72 L430.50,320.15 L431.00,321.61 L431.50,323.06 L432.00,324.49 L432.50,325.86 L433.00,327.17 L433.50,328.39 L434.00,329.52 L434.50,330.56 L435.00,331.50 L435.50,332.34 L436.00,333.08 L436.50,333.73 L437.00,334.27 L437.50,334.72 L438.00,335.06 L438.50,335.29 L439.00,335.42 L439.50,335.44 L440.00,335.36 L440.50,335.18 L441.00,334.92 L441.50,334.58 L442.00,334.18 L442.50,333.74 L443.00,333.27 L443.50,332.78 L444.00,332.30 L444.50,331.82 L445.00,331.36 L445.50,330.92 L446.00,330.51 L446.50,330.11 L447.00,329.73 L447.50,329.36 L448.00,328.99 L448.50,328.61 L449.00,328.23 L449.50,327.83 L450.00,327.42 L450.50,327.00 L451.00,326.57 L451.50,326.13 L452.00,325.70 L452.50,325.27 L453.00,324.86 L453.50,324.45 L454.00,324.07 L454.50,323.70 L455.00,323.35 L455.50,323.01 L456.00,322.69 L456.50,322.38 L457.00,322.10 L457.50,321.86 L458.00,321.65 L458.50,321.52 L459.00,321.47 L459.50,321.53 L460.00,321.73 L460.50,322.09 L461.00,322.63 L461.50,323.35 L462.00,324.27 L462.50,325.38 L463.00,326.67 L463.50,328.13 L464.00,329.73 L464.50,331.45 L465.00,333.26 L465.50,335.15 L466.00,337.09 L466.50,339.07 L467.00,341.07 L467.50,343.09 L468.00,345.11 L468.50,347.13 L469.00,349.13 L469.50,351.09 L470.00,352.99 L470.50,354.79 L471.00,356.48 L471.50,358.03 L472.00,359.40 L472.50,360.58 L473.00,361.57 L473.50,362.38 L474.00,363.01 L474.50,363.50 L475.00,363.90 L475.50,364.24 L476.00,364.56 L476.50,364.92 L477.00,365.35 L477.50,365.87 L478.00,366.50 L478.50,367.23 L479.00,368.06 L479.50,368.98 L480.00,369.96 L480.50,370.98 L481.00,372.03 L481.50,373.07 L482.00,374.11 L482.50,375.13 L483.00,376.13 L483.50,377.12 L484.00,378.10 L484.50,379.08 L485.00,380.05 L485.50,381.03 L486.00,382.02 L486.50,383.00 L487.00,383.99 L487.50,384.96 L488.00,385.91 L488.50,386.85 L489.00,387.75 L489.50,388.62 L490.00,389.44 L490.50,390.22 L491.00,390.94 L491.50,391.61 L492.00,392.21 L492.50,392.74 L493.00,393.21 L493.50,393.59 L494.00,393.90 L494.50,394.13 L495.00,394.30 L495.50,394.40 L496.00,394.46 L496.50,394.48 L497.00,394.49 L497.50,394.49 L498.00,394.51 L498.50,394.56 L499.00,394.65 L499.50,394.78 L500.00,394.96 L500.50,395.20 L501.00,395.50 L501.50,395.84 L502.00,396.24 L502.50,396.68 L503.00,397.18 L503.50,397.73 L504.00,398.33 L504.50,398.98 L505.00,399.70 L505.50,400.48 L506.00,401.33 L506.50,402.24 L507.00,403.21 L507.50,404.24 L508.00,405.32 L508.50,406.42 L509.00,407.55 L509.50,408.67 L510.00,409.79 L510.50,410.87 L511.00,411.91 L511.50,412.89 L512.00,413.80 L512.50,414.65 L513.00,415.41 L513.50,416.11 L514.00,416.74 L514.50,417.30 L515.00,417.80 L515.50,418.26 L516.00,418.68 L516.50,419.06 L517.00,419.41 L517.50,419.75 L518.00,420.06 L518.50,420.36 L519.00,420.64 L519.50,420.91 L520.00,421.15 L520.50,421.38 L521.00,421.57 L521.50,421.74 L522.00,421.88 L522.50,421.98 L523.00,422.05 L523.50,422.09 L524.00,422.09 L524.50,422.07 L525.00,422.02 L525.50,421.95 L526.00,421.86 L526.50,421.76 L527.00,421.64 L527.50,421.51 L528.00,421.37 L528.50,421.22 L529.00,421.06 L529.50,420.89 L530.00,420.70 L530.50,420.50 L531.00,420.27 L531.50,420.03 L532.00,419.78 L532.50,419.51 L533.00,419.23 L533.50,418.96 L534.00,418.68 L534.50,418.42 L535.00,418.18 L535.50,417.98 L536.00,417.81 L536.50,417.68 L537.00,417.61 L537.50,417.59 L538.00,417.64 L538.50,417.74 L539.00,417.91 L539.50,418.13 L540.00,418.41 L540.50,418.75 L541.00,419.14 L541.50,419.58 L542.00,420.07 L542.50,420.61 L543.00,421.19 L543.50,421.82 L544.00,422.49 L544.50,423.19 L545.00,423.92 L545.50,424.69 L546.00,425.48 L546.50,426.29 L547.00,427.11 L547.50,427.94 L548.00,428.77 L548.50,429.59 L549.00,430.40 L549.50,431.20 L550.00,431.97 L550.50,432.73 L551.00,433.46 L551.50,434.18 L552.00,434.87 L552.50,435.53 L553.00,436.18 L553.50,436.81 L554.00,437.41 L554.50,438.00 L555.00,438.56 L555.50,439.10 L556.00,439.61 L556.50,440.09 L557.00,440.54 L557.50,440.95 L558.00,441.32 L558.50,441.64 L559.00,441.93 L559.50,442.17 L560.00,442.37 L560.50,442.54 L561.00,442.68 L561.50,442.79 L562.00,442.88 L562.50,442.96 L563.00,443.03 L563.50,443.09 L564.00,443.16 L564.50,443.22 L565.00,443.30 L565.50,443.37 L566.00,443.44 L566.50,443.52 L567.00,443.59 L567.50,443.66 L568.00,443.72 L568.50,443.78 L569.00,443.83 L569.50,443.87 L570.00,443.90 L570.50,443.93 L571.00,443.95 L571.50,443.96 L572.00,443.98 L572.50,443.98 L573.00,443.99 L573.50,443.99 L574.00,444.00 L574.50,444.00 L575.00,444.00 L575.50,444.00 L576.00,444.00 L576.50,444.00 L577.00,444.00 L577.50,444.00 L578.00,444.00 L578.50,444.00 L579.00,444.00 L579.50,444.00 L580.00,444.00 L580.50,444.00 L581.00,444.00 L581.50,444.00 L582.00,444.00 L582.50,444.00 L583.00,444.00 L583.50,444.00 L584.00,444.00 L584.50,444.00 L585.00,444.00 L585.50,444.00 L586.00,444.00 L586.50,444.00 L587.00,444.00 L587.50,444.00 L588.00,444.00 L588.50,444.00 L589.00,444.00 L589.50,444.00 L590.00,444.00 L590.50,444.00 L591.00,444.00 L591.50,444.00 L592.00,444.00 L592.50,444.00 L593.00,444.00 L593.50,444.00 L594.00,444.00 L594.50,444.00 L595.00,444.00 L595.50,444.00 L596.00,444.00 L596.50,444.00 L597.00,444.00 L597.50,444.00 L598.00,444.00 L598.50,444.00 L599.00,444.00 L599.50,444.00 L600.00,444.00 L600.50,444.00 L601.00,444.00 L601.50,444.00 L602.00,444.00 L602.50,444.00 L603.00,444.00 L603.50,444.00 L604.00,444.00 L604.50,444.00 L605.00,444.00 L605.50,444.00" fill="none" stroke="#000" stroke-width="2.5" stroke-linejoin="round"/>
</g>
<line x1="564" y1="169.7" x2="600" y2="169.7" stroke="#2626ff" stroke-width="2.1"/>
<line x1="564" y1="198.4" x2="600" y2="198.4" stroke="#ff2626" stroke-width="2.1"/>
<line x1="564" y1="226.8" x2="600" y2="226.8" stroke="#2626ff" stroke-width="2.1" stroke-dasharray="7.3,3.5"/>
<line x1="564" y1="255.2" x2="600" y2="255.2" stroke="#ff2626" stroke-width="2.1" stroke-dasharray="7.3,3.5"/>
<line x1="564" y1="283.8" x2="600" y2="283.8" stroke="#269326" stroke-width="2.1"/>
<line x1="564" y1="312.2" x2="600" y2="312.2" stroke="#ff26ff" stroke-width="2.1"/>
<line x1="564" y1="340.6" x2="600" y2="340.6" stroke="#269326" stroke-width="2.1" stroke-dasharray="7.3,3.5"/>
<line x1="564" y1="368.8" x2="600" y2="368.8" stroke="#ff26ff" stroke-width="2.1" stroke-dasharray="7.3,3.5"/>
<line x1="564" y1="394.4" x2="600" y2="394.4" stroke="#000" stroke-width="2.5"/>
<rect x="580" y="410.9" width="3" height="16.9" fill="#1f77b4"/>
<path d="M23.0,1.5 H680.0 V444.3 H23.0 Z" fill="none" stroke="#000" stroke-width="0.85"/>
<line x1="131.20" y1="444" x2="131.20" y2="447.6" stroke="#222" stroke-width="0.9"/><line x1="266.48" y1="444" x2="266.48" y2="447.6" stroke="#222" stroke-width="0.9"/><line x1="401.75" y1="444" x2="401.75" y2="447.6" stroke="#222" stroke-width="0.9"/><line x1="537.03" y1="444" x2="537.03" y2="447.6" stroke="#222" stroke-width="0.9"/><line x1="672.30" y1="444" x2="672.30" y2="447.6" stroke="#222" stroke-width="0.9"/>
</svg>
<div class="tl" style="left:101.20px">310</div><div class="tl" style="left:236.48px">320</div><div class="tl" style="left:371.75px">330</div><div class="tl" style="left:507.03px">340</div><div class="tl" style="left:642.30px">350</div>
<div class="xl">Double ionization energy (eV)</div>
<div class="yl">Intensity (arb. units)</div>
<div class="lt" style="top:158.7px"><sup>1</sup>Σ(<i>C</i><sub><i>C</i></sub>)</div>
<div class="lt" style="top:187.4px"><sup>1</sup>Π(<i>C</i><sub><i>C</i></sub>)</div>
<div class="lt" style="top:215.8px"><sup>3</sup>Σ(<i>C</i><sub><i>C</i></sub>)</div>
<div class="lt" style="top:244.2px"><sup>3</sup>Π(<i>C</i><sub><i>C</i></sub>)</div>
<div class="lt" style="top:272.8px"><sup>1</sup>Σ(<i>C</i><sub><i>O</i></sub>)</div>
<div class="lt" style="top:301.2px"><sup>1</sup>Π(<i>C</i><sub><i>O</i></sub>)</div>
<div class="lt" style="top:329.6px"><sup>3</sup>Σ(<i>C</i><sub><i>O</i></sub>)</div>
<div class="lt" style="top:357.8px"><sup>3</sup>Π(<i>C</i><sub><i>O</i></sub>)</div>
<div class="lt" style="top:383.4px">Total</div>
<div class="lt" style="top:408.0px">exp.</div>
<div class="an" style="left:130.2px;top:215.5px">1<i>π</i><sub><i>u</i></sub></div><div class="an" style="left:115.8px;top:267.8px">1<i>π</i><sub><i>g</i></sub></div><div class="an" style="left:72.3px;top:313.6px">2<i>π</i><sub><i>u</i></sub></div><div class="an" style="left:228.5px;top:190.7px">5<i>σ</i><sub><i>u</i></sub></div><div class="an" style="left:307.2px;top:205.5px">6<i>σ</i><sub><i>g</i></sub></div>
</div></body></html>
